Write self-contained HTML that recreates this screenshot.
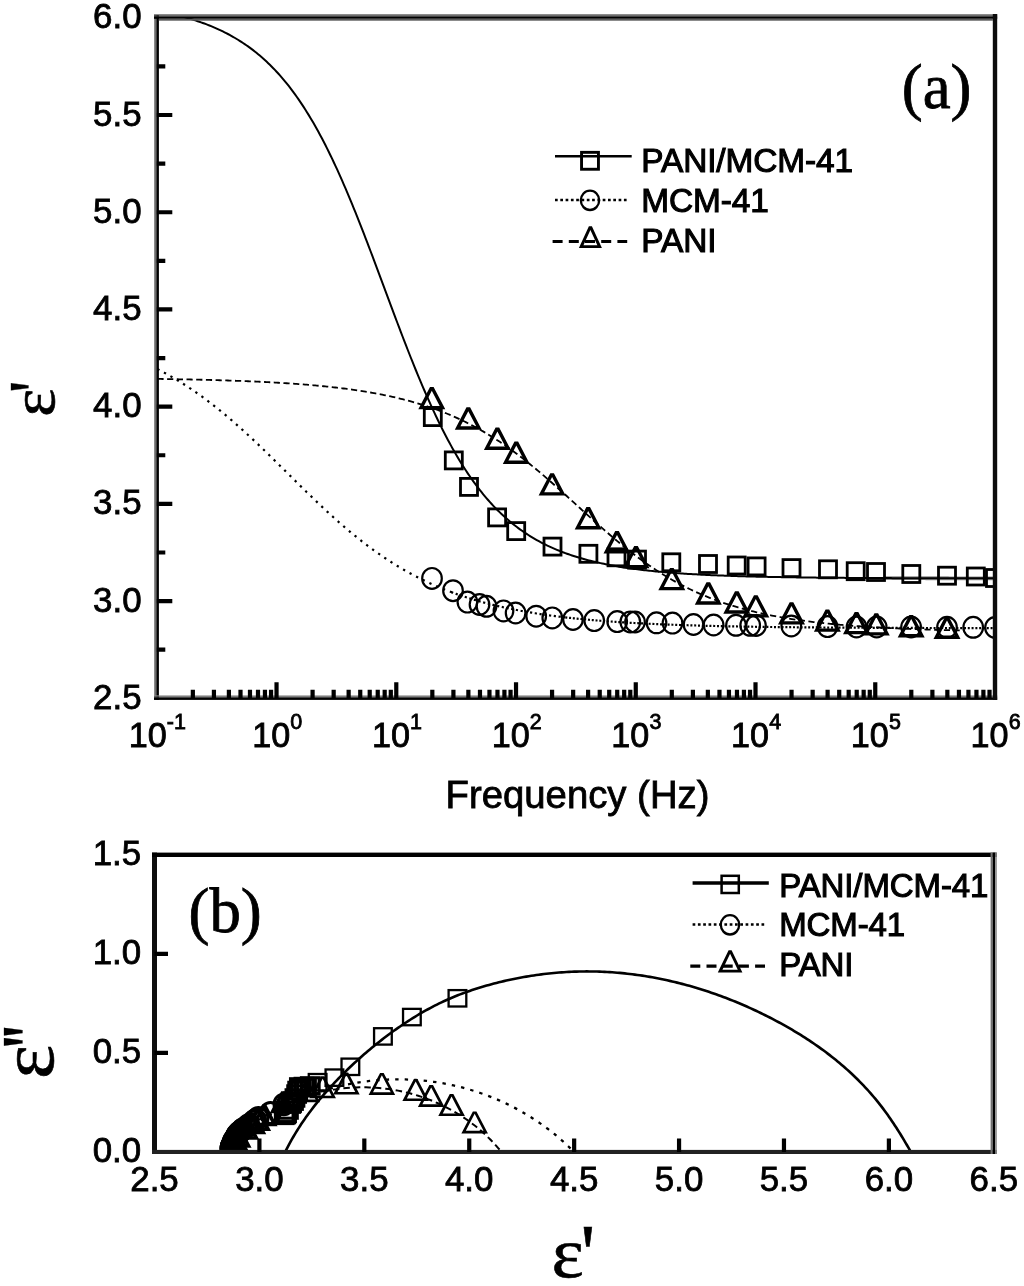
<!DOCTYPE html>
<html lang="en"><head><meta charset="utf-8"><title>Dielectric spectra of PANI/MCM-41, MCM-41 and PANI</title>
<style>
html,body{margin:0;padding:0;background:#fff;}
body{width:1024px;height:1286px;overflow:hidden;}
svg{display:block;filter:blur(0.6px);}
</style></head><body>
<svg width="1024" height="1286" viewBox="0 0 1024 1286">
<rect width="1024" height="1286" fill="#fff"/>
<clipPath id="ca"><rect x="156.8" y="17.8" width="838.2" height="680.5"/></clipPath>
<g clip-path="url(#ca)">
<path d="M884.22 578.09L885.89 578.1L887.57 578.11L889.25 578.11L890.93 578.12L892.61 578.13L894.29 578.13L895.97 578.14L897.64 578.14L899.32 578.15L901 578.16L902.68 578.16L904.36 578.17L906.04 578.17L907.72 578.18L909.39 578.18L911.07 578.19L912.75 578.19L914.43 578.2L916.11 578.2L917.79 578.21L919.46 578.21L921.14 578.22L922.82 578.22L924.5 578.22L926.18 578.23L927.86 578.23L929.54 578.24L931.21 578.24L932.89 578.24L934.57 578.25L936.25 578.25L937.93 578.25L939.61 578.26L941.29 578.26L942.96 578.26L944.64 578.27L946.32 578.27L948 578.27L949.68 578.28L951.36 578.28L953.04 578.28L954.71 578.29L956.39 578.29L958.07 578.29L959.75 578.29L961.43 578.3L963.11 578.3L964.79 578.3L966.46 578.3L968.14 578.31L969.82 578.31L971.5 578.31L973.18 578.31L974.86 578.31L976.54 578.32L978.21 578.32L979.89 578.32L981.57 578.32L983.25 578.32L984.93 578.33L986.61 578.33L988.29 578.33L989.96 578.33L991.64 578.33L993.32 578.33L995 578.34" fill="none" stroke="#000" stroke-width="3.8" stroke-opacity="0.45"/>
<path d="M157.4 11L159.08 11.32L160.76 11.64L162.44 11.97L164.11 12.31L165.79 12.65L167.47 13.01L169.15 13.37L170.83 13.75L172.51 14.13L174.19 14.52L175.86 14.93L177.54 15.34L179.22 15.76L180.9 16.19L182.58 16.64L184.26 17.09L185.94 17.56L187.61 18.04L189.29 18.53L190.97 19.03L192.65 19.55L194.33 20.08L196.01 20.62L197.69 21.18L199.36 21.75L201.04 22.34L202.72 22.94L204.4 23.55L206.08 24.18L207.76 24.83L209.44 25.49L211.11 26.17L212.79 26.87L214.47 27.59L216.15 28.32L217.83 29.07L219.51 29.85L221.19 30.64L222.86 31.45L224.54 32.28L226.22 33.14L227.9 34.01L229.58 34.91L231.26 35.83L232.94 36.78L234.61 37.75L236.29 38.74L237.97 39.76L239.65 40.8L241.33 41.87L243.01 42.97L244.68 44.1L246.36 45.25L248.04 46.44L249.72 47.65L251.4 48.9L253.08 50.17L254.76 51.48L256.43 52.82L258.11 54.19L259.79 55.6L261.47 57.04L263.15 58.52L264.83 60.04L266.51 61.59L268.18 63.18L269.86 64.8L271.54 66.47L273.22 68.18L274.9 69.93L276.58 71.72L278.26 73.55L279.93 75.43L281.61 77.35L283.29 79.32L284.97 81.33L286.65 83.38L288.33 85.49L290.01 87.64L291.68 89.84L293.36 92.09L295.04 94.39L296.72 96.74L298.4 99.14L300.08 101.59L301.76 104.09L303.43 106.65L305.11 109.26L306.79 111.92L308.47 114.63L310.15 117.41L311.83 120.23L313.51 123.11L315.18 126.05L316.86 129.04L318.54 132.08L320.22 135.18L321.9 138.34L323.58 141.55L325.26 144.82L326.93 148.14L328.61 151.52L330.29 154.95L331.97 158.43L333.65 161.97L335.33 165.56L337.01 169.2L338.68 172.9L340.36 176.64L342.04 180.44L343.72 184.28L345.4 188.17L347.08 192.11L348.76 196.09L350.43 200.12L352.11 204.19L353.79 208.3L355.47 212.44L357.15 216.63L358.83 220.85L360.51 225.11L362.18 229.4L363.86 233.72L365.54 238.06L367.22 242.44L368.9 246.84L370.58 251.26L372.26 255.69L373.93 260.15L375.61 264.62L377.29 269.11L378.97 273.6L380.65 278.1L382.33 282.61L384.01 287.12L385.68 291.63L387.36 296.14L389.04 300.65L390.72 305.15L392.4 309.63L394.08 314.11L395.76 318.58L397.43 323.02L399.11 327.45L400.79 331.86L402.47 336.24L404.15 340.6L405.83 344.94L407.51 349.24L409.18 353.51L410.86 357.75L412.54 361.95L414.22 366.12L415.9 370.25L417.58 374.33L419.25 378.38L420.93 382.38L422.61 386.34L424.29 390.25L425.97 394.12L427.65 397.93L429.33 401.7L431 405.42L432.68 409.09L434.36 412.7L436.04 416.26L437.72 419.77L439.4 423.23L441.08 426.63L442.75 429.98L444.43 433.27L446.11 436.5L447.79 439.69L449.47 442.81L451.15 445.88L452.83 448.9L454.5 451.86L456.18 454.77L457.86 457.62L459.54 460.41L461.22 463.15L462.9 465.84L464.58 468.47L466.25 471.05L467.93 473.58L469.61 476.06L471.29 478.48L472.97 480.85L474.65 483.17L476.33 485.45L478 487.67L479.68 489.84L481.36 491.97L483.04 494.05L484.72 496.08L486.4 498.06L488.08 500.01L489.75 501.9L491.43 503.75L493.11 505.56L494.79 507.33L496.47 509.06L498.15 510.74L499.83 512.39L501.5 514L503.18 515.57L504.86 517.1L506.54 518.59L508.22 520.05L509.9 521.48L511.58 522.86L513.25 524.22L514.93 525.54L516.61 526.83L518.29 528.09L519.97 529.32L521.65 530.52L523.33 531.68L525 532.82L526.68 533.93L528.36 535.02L530.04 536.07L531.72 537.11L533.4 538.11L535.08 539.09L536.75 540.05L538.43 540.98L540.11 541.89L541.79 542.77L543.47 543.64L545.15 544.48L546.83 545.3L548.5 546.1L550.18 546.88L551.86 547.64L553.54 548.39L555.22 549.11L556.9 549.82L558.58 550.51L560.25 551.18L561.93 551.83L563.61 552.47L565.29 553.09L566.97 553.7L568.65 554.29L570.33 554.87L572 555.43L573.68 555.98L575.36 556.52L577.04 557.04L578.72 557.55L580.4 558.04L582.07 558.53L583.75 559L585.43 559.46L587.11 559.91L588.79 560.35L590.47 560.78L592.15 561.2L593.82 561.6L595.5 562L597.18 562.39L598.86 562.76L600.54 563.13L602.22 563.49L603.9 563.84L605.57 564.19L607.25 564.52L608.93 564.85L610.61 565.16L612.29 565.47L613.97 565.78L615.65 566.07L617.32 566.36L619 566.64L620.68 566.92L622.36 567.18L624.04 567.45L625.72 567.7L627.4 567.95L629.07 568.19L630.75 568.43L632.43 568.66L634.11 568.89L635.79 569.11L637.47 569.32L639.15 569.53L640.82 569.74L642.5 569.94L644.18 570.14L645.86 570.33L647.54 570.51L649.22 570.69L650.9 570.87L652.57 571.05L654.25 571.22L655.93 571.38L657.61 571.54L659.29 571.7L660.97 571.85L662.65 572.01L664.32 572.15L666 572.3L667.68 572.44L669.36 572.57L671.04 572.71L672.72 572.84L674.4 572.96L676.07 573.09L677.75 573.21L679.43 573.33L681.11 573.44L682.79 573.56L684.47 573.67L686.15 573.78L687.82 573.88L689.5 573.99L691.18 574.09L692.86 574.18L694.54 574.28L696.22 574.37L697.9 574.47L699.57 574.56L701.25 574.64L702.93 574.73L704.61 574.81L706.29 574.89L707.97 574.97L709.65 575.05L711.32 575.13L713 575.2L714.68 575.27L716.36 575.35L718.04 575.42L719.72 575.48L721.4 575.55L723.07 575.61L724.75 575.68L726.43 575.74L728.11 575.8L729.79 575.86L731.47 575.92L733.15 575.97L734.82 576.03L736.5 576.08L738.18 576.13L739.86 576.18L741.54 576.23L743.22 576.28L744.89 576.33L746.57 576.38L748.25 576.42L749.93 576.47L751.61 576.51L753.29 576.56L754.97 576.6L756.64 576.64L758.32 576.68L760 576.72L761.68 576.75L763.36 576.79L765.04 576.83L766.72 576.86L768.39 576.9L770.07 576.93L771.75 576.97L773.43 577L775.11 577.03L776.79 577.06L778.47 577.09L780.14 577.12L781.82 577.15L783.5 577.18L785.18 577.21L786.86 577.23L788.54 577.26L790.22 577.28L791.89 577.31L793.57 577.33L795.25 577.36L796.93 577.38L798.61 577.41L800.29 577.43L801.97 577.45L803.64 577.47L805.32 577.49L807 577.51L808.68 577.53L810.36 577.55L812.04 577.57L813.72 577.59L815.39 577.61L817.07 577.63L818.75 577.64L820.43 577.66L822.11 577.68L823.79 577.69L825.47 577.71L827.14 577.73L828.82 577.74L830.5 577.76L832.18 577.77L833.86 577.79L835.54 577.8L837.22 577.81L838.89 577.83L840.57 577.84L842.25 577.85L843.93 577.86L845.61 577.88L847.29 577.89L848.97 577.9L850.64 577.91L852.32 577.92L854 577.93L855.68 577.94L857.36 577.95L859.04 577.96L860.72 577.97L862.39 577.98L864.07 577.99L865.75 578L867.43 578.01L869.11 578.02L870.79 578.03L872.47 578.04L874.14 578.05L875.82 578.05L877.5 578.06L879.18 578.07L880.86 578.08L882.54 578.08L884.22 578.09L885.89 578.1L887.57 578.11L889.25 578.11L890.93 578.12L892.61 578.13L894.29 578.13L895.97 578.14L897.64 578.14L899.32 578.15L901 578.16L902.68 578.16L904.36 578.17L906.04 578.17L907.72 578.18L909.39 578.18L911.07 578.19L912.75 578.19L914.43 578.2L916.11 578.2L917.79 578.21L919.46 578.21L921.14 578.22L922.82 578.22L924.5 578.22L926.18 578.23L927.86 578.23L929.54 578.24L931.21 578.24L932.89 578.24L934.57 578.25L936.25 578.25L937.93 578.25L939.61 578.26L941.29 578.26L942.96 578.26L944.64 578.27L946.32 578.27L948 578.27L949.68 578.28L951.36 578.28L953.04 578.28L954.71 578.29L956.39 578.29L958.07 578.29L959.75 578.29L961.43 578.3L963.11 578.3L964.79 578.3L966.46 578.3L968.14 578.31L969.82 578.31L971.5 578.31L973.18 578.31L974.86 578.31L976.54 578.32L978.21 578.32L979.89 578.32L981.57 578.32L983.25 578.32L984.93 578.33L986.61 578.33L988.29 578.33L989.96 578.33L991.64 578.33L993.32 578.33L995 578.34" fill="none" stroke="#000" stroke-width="2"/>
<path d="M157.4 369.07L159.08 369.94L160.76 370.82L162.44 371.71L164.11 372.61L165.79 373.53L167.47 374.46L169.15 375.4L170.83 376.36L172.51 377.33L174.19 378.31L175.86 379.31L177.54 380.32L179.22 381.35L180.9 382.39L182.58 383.44L184.26 384.5L185.94 385.58L187.61 386.68L189.29 387.79L190.97 388.91L192.65 390.04L194.33 391.19L196.01 392.36L197.69 393.54L199.36 394.73L201.04 395.93L202.72 397.15L204.4 398.39L206.08 399.63L207.76 400.89L209.44 402.17L211.11 403.46L212.79 404.76L214.47 406.07L216.15 407.4L217.83 408.74L219.51 410.1L221.19 411.47L222.86 412.85L224.54 414.24L226.22 415.64L227.9 417.06L229.58 418.49L231.26 419.93L232.94 421.38L234.61 422.85L236.29 424.32L237.97 425.81L239.65 427.31L241.33 428.82L243.01 430.33L244.68 431.86L246.36 433.4L248.04 434.95L249.72 436.5L251.4 438.07L253.08 439.64L254.76 441.22L256.43 442.81L258.11 444.41L259.79 446.01L261.47 447.62L263.15 449.24L264.83 450.86L266.51 452.49L268.18 454.12L269.86 455.76L271.54 457.4L273.22 459.05L274.9 460.7L276.58 462.35L278.26 464.01L279.93 465.67L281.61 467.33L283.29 468.99L284.97 470.65L286.65 472.32L288.33 473.98L290.01 475.64L291.68 477.31L293.36 478.97L295.04 480.63L296.72 482.29L298.4 483.94L300.08 485.6L301.76 487.25L303.43 488.89L305.11 490.53L306.79 492.17L308.47 493.81L310.15 495.43L311.83 497.06L313.51 498.67L315.18 500.28L316.86 501.89L318.54 503.49L320.22 505.07L321.9 506.66L323.58 508.23L325.26 509.79L326.93 511.35L328.61 512.9L330.29 514.44L331.97 515.96L333.65 517.48L335.33 518.99L337.01 520.49L338.68 521.97L340.36 523.45L342.04 524.92L343.72 526.37L345.4 527.81L347.08 529.24L348.76 530.66L350.43 532.06L352.11 533.46L353.79 534.84L355.47 536.2L357.15 537.56L358.83 538.9L360.51 540.23L362.18 541.54L363.86 542.85L365.54 544.13L367.22 545.41L368.9 546.67L370.58 547.92L372.26 549.15L373.93 550.37L375.61 551.58L377.29 552.77L378.97 553.95L380.65 555.11L382.33 556.26L384.01 557.4L385.68 558.52L387.36 559.63L389.04 560.72L390.72 561.8L392.4 562.87L394.08 563.92L395.76 564.96L397.43 565.99L399.11 567L400.79 567.99L402.47 568.98L404.15 569.95L405.83 570.91L407.51 571.85L409.18 572.78L410.86 573.7L412.54 574.6L414.22 575.49L415.9 576.37L417.58 577.24L419.25 578.09L420.93 578.93L422.61 579.76L424.29 580.58L425.97 581.38L427.65 582.17L429.33 582.95L431 583.72L432.68 584.47L434.36 585.21L436.04 585.95L437.72 586.67L439.4 587.38L441.08 588.07L442.75 588.76L444.43 589.44L446.11 590.1L447.79 590.76L449.47 591.4L451.15 592.04L452.83 592.66" fill="none" stroke="#000" stroke-width="2.2" stroke-dasharray="2.3 5.1"/>
<path d="M451.15 592.04L452.83 592.66L454.5 593.28L456.18 593.88L457.86 594.47L459.54 595.06L461.22 595.63L462.9 596.2L464.58 596.75L466.25 597.3L467.93 597.84L469.61 598.36L471.29 598.88L472.97 599.4L474.65 599.9L476.33 600.39L478 600.88L479.68 601.36L481.36 601.82L483.04 602.29L484.72 602.74L486.4 603.19L488.08 603.62L489.75 604.06L491.43 604.48L493.11 604.9L494.79 605.3L496.47 605.71L498.15 606.1L499.83 606.49L501.5 606.87L503.18 607.25L504.86 607.62L506.54 607.98L508.22 608.33L509.9 608.68L511.58 609.03L513.25 609.37L514.93 609.7L516.61 610.02L518.29 610.34L519.97 610.66L521.65 610.97L523.33 611.27L525 611.57L526.68 611.86L528.36 612.15L530.04 612.44L531.72 612.71L533.4 612.99L535.08 613.26L536.75 613.52L538.43 613.78L540.11 614.04L541.79 614.29L543.47 614.53L545.15 614.77L546.83 615.01L548.5 615.24L550.18 615.47L551.86 615.7L553.54 615.92L555.22 616.14L556.9 616.35L558.58 616.56L560.25 616.76L561.93 616.97L563.61 617.17L565.29 617.36" fill="none" stroke="#000" stroke-width="2.2" stroke-dasharray="2.2 2.6"/>
<path d="M565.29 617.36L566.97 617.55L568.65 617.74L570.33 617.93L572 618.11L573.68 618.29L575.36 618.46L577.04 618.63L578.72 618.8L580.4 618.97L582.07 619.13L583.75 619.29L585.43 619.45L587.11 619.61L588.79 619.76L590.47 619.91L592.15 620.05L593.82 620.2L595.5 620.34L597.18 620.48L598.86 620.62L600.54 620.75L602.22 620.88L603.9 621.01L605.57 621.14L607.25 621.26L608.93 621.39L610.61 621.51L612.29 621.63L613.97 621.74L615.65 621.86L617.32 621.97L619 622.08L620.68 622.19L622.36 622.29L624.04 622.4L625.72 622.5L627.4 622.6L629.07 622.7L630.75 622.8L632.43 622.89L634.11 622.99L635.79 623.08L637.47 623.17L639.15 623.26L640.82 623.35L642.5 623.43L644.18 623.52L645.86 623.6L647.54 623.68L649.22 623.76L650.9 623.84L652.57 623.92L654.25 623.99L655.93 624.07L657.61 624.14L659.29 624.21L660.97 624.28L662.65 624.35L664.32 624.42L666 624.49L667.68 624.55L669.36 624.62L671.04 624.68L672.72 624.74L674.4 624.81L676.07 624.87L677.75 624.92L679.43 624.98L681.11 625.04L682.79 625.1L684.47 625.15L686.15 625.2L687.82 625.26L689.5 625.31L691.18 625.36L692.86 625.41L694.54 625.46L696.22 625.51L697.9 625.56L699.57 625.6L701.25 625.65L702.93 625.7L704.61 625.74L706.29 625.78L707.97 625.83L709.65 625.87L711.32 625.91L713 625.95L714.68 625.99L716.36 626.03L718.04 626.07L719.72 626.11L721.4 626.14L723.07 626.18L724.75 626.22L726.43 626.25L728.11 626.29L729.79 626.32L731.47 626.35L733.15 626.39L734.82 626.42L736.5 626.45L738.18 626.48L739.86 626.51L741.54 626.54L743.22 626.57L744.89 626.6L746.57 626.63L748.25 626.66L749.93 626.68L751.61 626.71L753.29 626.74L754.97 626.76L756.64 626.79L758.32 626.81L760 626.84L761.68 626.86L763.36 626.89L765.04 626.91L766.72 626.93L768.39 626.96L770.07 626.98L771.75 627L773.43 627.02L775.11 627.04L776.79 627.06L778.47 627.08L780.14 627.1L781.82 627.12L783.5 627.14L785.18 627.16L786.86 627.18L788.54 627.2L790.22 627.22L791.89 627.23L793.57 627.25L795.25 627.27L796.93 627.29L798.61 627.3L800.29 627.32L801.97 627.33L803.64 627.35L805.32 627.36L807 627.38L808.68 627.39L810.36 627.41L812.04 627.42L813.72 627.44L815.39 627.45L817.07 627.46L818.75 627.48L820.43 627.49L822.11 627.5L823.79 627.52L825.47 627.53L827.14 627.54L828.82 627.55L830.5 627.56L832.18 627.58L833.86 627.59L835.54 627.6L837.22 627.61L838.89 627.62L840.57 627.63L842.25 627.64L843.93 627.65L845.61 627.66L847.29 627.67L848.97 627.68L850.64 627.69L852.32 627.7L854 627.71L855.68 627.72L857.36 627.73L859.04 627.73L860.72 627.74L862.39 627.75L864.07 627.76L865.75 627.77L867.43 627.78L869.11 627.78L870.79 627.79L872.47 627.8L874.14 627.81L875.82 627.81L877.5 627.82L879.18 627.83L880.86 627.83L882.54 627.84L884.22 627.85L885.89 627.85L887.57 627.86L889.25 627.87L890.93 627.87L892.61 627.88L894.29 627.89L895.97 627.89L897.64 627.9L899.32 627.9L901 627.91L902.68 627.91L904.36 627.92L906.04 627.92L907.72 627.93L909.39 627.93L911.07 627.94L912.75 627.94L914.43 627.95L916.11 627.95L917.79 627.96L919.46 627.96L921.14 627.97L922.82 627.97L924.5 627.98L926.18 627.98L927.86 627.99L929.54 627.99L931.21 627.99L932.89 628L934.57 628L936.25 628.01L937.93 628.01L939.61 628.01L941.29 628.02L942.96 628.02L944.64 628.02L946.32 628.03L948 628.03L949.68 628.03L951.36 628.04L953.04 628.04L954.71 628.04L956.39 628.05L958.07 628.05L959.75 628.05L961.43 628.06L963.11 628.06L964.79 628.06L966.46 628.06L968.14 628.07L969.82 628.07L971.5 628.07L973.18 628.07L974.86 628.08L976.54 628.08L978.21 628.08L979.89 628.08L981.57 628.09L983.25 628.09L984.93 628.09L986.61 628.09L988.29 628.1L989.96 628.1L991.64 628.1L993.32 628.1L995 628.1" fill="none" stroke="#000" stroke-width="2.2" stroke-dasharray="2 1.8"/>
<path d="M157.4 378.92L159.08 378.94L160.76 378.97L162.44 378.99L164.11 379.02L165.79 379.04L167.47 379.07L169.15 379.1L170.83 379.13L172.51 379.16L174.19 379.19L175.86 379.21L177.54 379.25L179.22 379.28L180.9 379.31L182.58 379.34L184.26 379.37L185.94 379.41L187.61 379.44L189.29 379.47L190.97 379.51L192.65 379.55L194.33 379.58L196.01 379.62L197.69 379.66L199.36 379.7L201.04 379.74L202.72 379.78L204.4 379.82L206.08 379.86L207.76 379.9L209.44 379.95L211.11 379.99L212.79 380.04L214.47 380.08L216.15 380.13L217.83 380.18L219.51 380.23L221.19 380.28L222.86 380.33L224.54 380.38L226.22 380.44L227.9 380.49L229.58 380.55L231.26 380.6L232.94 380.66L234.61 380.72L236.29 380.78L237.97 380.84L239.65 380.9L241.33 380.97L243.01 381.03L244.68 381.1L246.36 381.16L248.04 381.23L249.72 381.3L251.4 381.37L253.08 381.45L254.76 381.52L256.43 381.6L258.11 381.67L259.79 381.75L261.47 381.83L263.15 381.91L264.83 382L266.51 382.08L268.18 382.17L269.86 382.26L271.54 382.35L273.22 382.44L274.9 382.53L276.58 382.63L278.26 382.73L279.93 382.83L281.61 382.93L283.29 383.03L284.97 383.14L286.65 383.24L288.33 383.35L290.01 383.47L291.68 383.58L293.36 383.7L295.04 383.82L296.72 383.94L298.4 384.06L300.08 384.19L301.76 384.31L303.43 384.45L305.11 384.58L306.79 384.72L308.47 384.85L310.15 385L311.83 385.14L313.51 385.29L315.18 385.44L316.86 385.59L318.54 385.75L320.22 385.91L321.9 386.07L323.58 386.24L325.26 386.41L326.93 386.58L328.61 386.75L330.29 386.93L331.97 387.12L333.65 387.3L335.33 387.5L337.01 387.69L338.68 387.89L340.36 388.09L342.04 388.3L343.72 388.51L345.4 388.72L347.08 388.94L348.76 389.16L350.43 389.39L352.11 389.62L353.79 389.86L355.47 390.1L357.15 390.35L358.83 390.6L360.51 390.85L362.18 391.12L363.86 391.38L365.54 391.65L367.22 391.93L368.9 392.21L370.58 392.5L372.26 392.79L373.93 393.09L375.61 393.4L377.29 393.71L378.97 394.03L380.65 394.35L382.33 394.68L384.01 395.02L385.68 395.36L387.36 395.71L389.04 396.07L390.72 396.44L392.4 396.81L394.08 397.19L395.76 397.57L397.43 397.96L399.11 398.37L400.79 398.77L402.47 399.19L404.15 399.62L405.83 400.05L407.51 400.49L409.18 400.94L410.86 401.4L412.54 401.87L414.22 402.34L415.9 402.83L417.58 403.32L419.25 403.83L420.93 404.34L422.61 404.86L424.29 405.4L425.97 405.94L427.65 406.49L429.33 407.05L431 407.63L432.68 408.21L434.36 408.81L436.04 409.41L437.72 410.03L439.4 410.66L441.08 411.3L442.75 411.95L444.43 412.61L446.11 413.29L447.79 413.97L449.47 414.67L451.15 415.38L452.83 416.11L454.5 416.84L456.18 417.59L457.86 418.35L459.54 419.12L461.22 419.91L462.9 420.71L464.58 421.53L466.25 422.35L467.93 423.19L469.61 424.05L471.29 424.92L472.97 425.8L474.65 426.69L476.33 427.6L478 428.53L479.68 429.47L481.36 430.42L483.04 431.39L484.72 432.37L486.4 433.36L488.08 434.37L489.75 435.4L491.43 436.44L493.11 437.49L494.79 438.56L496.47 439.64L498.15 440.74L499.83 441.85L501.5 442.97L503.18 444.11L504.86 445.27L506.54 446.44L508.22 447.62L509.9 448.81L511.58 450.03L513.25 451.25L514.93 452.49L516.61 453.74L518.29 455L519.97 456.28L521.65 457.57L523.33 458.88L525 460.19L526.68 461.52L528.36 462.86L530.04 464.21L531.72 465.58L533.4 466.95L535.08 468.34L536.75 469.74L538.43 471.14L540.11 472.56L541.79 473.99L543.47 475.43L545.15 476.87L546.83 478.32L548.5 479.79L550.18 481.26L551.86 482.73L553.54 484.22L555.22 485.71L556.9 487.21L558.58 488.71L560.25 490.22L561.93 491.73L563.61 493.24L565.29 494.77L566.97 496.29L568.65 497.82L570.33 499.34L572 500.88L573.68 502.41L575.36 503.94L577.04 505.47L578.72 507.01L580.4 508.54L582.07 510.07L583.75 511.6L585.43 513.13L587.11 514.65L588.79 516.17L590.47 517.69L592.15 519.21L593.82 520.72L595.5 522.22L597.18 523.72L598.86 525.21L600.54 526.7L602.22 528.18L603.9 529.65L605.57 531.12L607.25 532.57L608.93 534.02L610.61 535.46L612.29 536.89L613.97 538.31L615.65 539.72L617.32 541.13L619 542.52L620.68 543.89L622.36 545.26L624.04 546.62L625.72 547.96L627.4 549.3L629.07 550.62L630.75 551.93L632.43 553.22L634.11 554.51L635.79 555.78L637.47 557.03L639.15 558.27L640.82 559.5L642.5 560.72L644.18 561.92L645.86 563.11L647.54 564.28L649.22 565.44L650.9 566.59L652.57 567.72L654.25 568.84L655.93 569.94L657.61 571.03L659.29 572.1L660.97 573.16L662.65 574.2L664.32 575.23L666 576.25L667.68 577.25L669.36 578.23L671.04 579.21L672.72 580.16L674.4 581.11L676.07 582.04L677.75 582.95L679.43 583.85L681.11 584.74L682.79 585.61L684.47 586.47L686.15 587.32L687.82 588.15L689.5 588.97L691.18 589.77L692.86 590.57L694.54 591.35L696.22 592.11L697.9 592.86L699.57 593.61L701.25 594.33L702.93 595.05L704.61 595.75L706.29 596.44L707.97 597.12L709.65 597.79L711.32 598.44L713 599.09L714.68 599.72L716.36 600.34L718.04 600.95L719.72 601.55L721.4 602.14L723.07 602.72L724.75 603.28L726.43 603.84L728.11 604.39L729.79 604.92L731.47 605.45L733.15 605.97L734.82 606.47L736.5 606.97L738.18 607.46L739.86 607.94L741.54 608.41L743.22 608.87L744.89 609.33L746.57 609.77L748.25 610.21L749.93 610.63L751.61 611.05L753.29 611.47L754.97 611.87L756.64 612.27L758.32 612.65L760 613.04L761.68 613.41L763.36 613.78L765.04 614.14L766.72 614.49L768.39 614.83L770.07 615.17L771.75 615.51L773.43 615.83L775.11 616.15L776.79 616.47L778.47 616.77L780.14 617.08L781.82 617.37L783.5 617.66L785.18 617.95L786.86 618.23L788.54 618.5L790.22 618.77L791.89 619.03L793.57 619.29L795.25 619.54L796.93 619.79L798.61 620.03L800.29 620.27L801.97 620.51L803.64 620.73L805.32 620.96L807 621.18L808.68 621.4L810.36 621.61L812.04 621.82L813.72 622.02L815.39 622.22L817.07 622.41L818.75 622.61L820.43 622.8L822.11 622.98L823.79 623.16L825.47 623.34L827.14 623.51L828.82 623.68L830.5 623.85L832.18 624.01L833.86 624.17L835.54 624.33L837.22 624.49L838.89 624.64L840.57 624.79L842.25 624.93L843.93 625.08L845.61 625.22L847.29 625.35L848.97 625.49L850.64 625.62L852.32 625.75L854 625.88L855.68 626L857.36 626.12L859.04 626.24L860.72 626.36L862.39 626.47L864.07 626.59L865.75 626.7L867.43 626.81L869.11 626.91L870.79 627.02L872.47 627.12L874.14 627.22L875.82 627.32L877.5 627.41L879.18 627.51L880.86 627.6L882.54 627.69L884.22 627.78L885.89 627.87L887.57 627.95L889.25 628.04L890.93 628.12L892.61 628.2L894.29 628.28L895.97 628.36L897.64 628.43L899.32 628.51L901 628.58L902.68 628.65L904.36 628.72L906.04 628.79L907.72 628.86L909.39 628.93L911.07 628.99L912.75 629.06L914.43 629.12L916.11 629.18L917.79 629.24L919.46 629.3L921.14 629.36L922.82 629.41L924.5 629.47L926.18 629.53L927.86 629.58L929.54 629.63L931.21 629.68L932.89 629.73L934.57 629.78L936.25 629.83L937.93 629.88L939.61 629.93L941.29 629.97L942.96 630.02L944.64 630.06L946.32 630.1L948 630.15L949.68 630.19L951.36 630.23L953.04 630.27L954.71 630.31L956.39 630.35L958.07 630.38L959.75 630.42L961.43 630.46" fill="none" stroke="#000" stroke-width="1.8" stroke-dasharray="6.2 3.5"/>
<rect x="424.3" y="408.6" width="17" height="17" fill="none" stroke="#000" stroke-width="2.8"/>
<rect x="445.3" y="451.9" width="17" height="17" fill="none" stroke="#000" stroke-width="2.8"/>
<rect x="460.5" y="478.4" width="17" height="17" fill="none" stroke="#000" stroke-width="2.8"/>
<rect x="488.6" y="508.9" width="17" height="17" fill="none" stroke="#000" stroke-width="2.8"/>
<rect x="507.7" y="522.6" width="17" height="17" fill="none" stroke="#000" stroke-width="2.8"/>
<rect x="544" y="538.1" width="17" height="17" fill="none" stroke="#000" stroke-width="2.8"/>
<rect x="579.9" y="545.3" width="17" height="17" fill="none" stroke="#000" stroke-width="2.8"/>
<rect x="608" y="548.8" width="17" height="17" fill="none" stroke="#000" stroke-width="2.8"/>
<rect x="628.5" y="551.1" width="17" height="17" fill="none" stroke="#000" stroke-width="2.8"/>
<rect x="662.8" y="553.8" width="17" height="17" fill="none" stroke="#000" stroke-width="2.8"/>
<rect x="699.5" y="555.5" width="17" height="17" fill="none" stroke="#000" stroke-width="2.8"/>
<rect x="728.2" y="557" width="17" height="17" fill="none" stroke="#000" stroke-width="2.8"/>
<rect x="748.1" y="557.9" width="17" height="17" fill="none" stroke="#000" stroke-width="2.8"/>
<rect x="783" y="559.6" width="17" height="17" fill="none" stroke="#000" stroke-width="2.8"/>
<rect x="819.5" y="560.8" width="17" height="17" fill="none" stroke="#000" stroke-width="2.8"/>
<rect x="847.2" y="562.7" width="17" height="17" fill="none" stroke="#000" stroke-width="2.8"/>
<rect x="867.5" y="563.5" width="17" height="17" fill="none" stroke="#000" stroke-width="2.8"/>
<rect x="902.8" y="565.5" width="17" height="17" fill="none" stroke="#000" stroke-width="2.8"/>
<rect x="938.5" y="567.2" width="17" height="17" fill="none" stroke="#000" stroke-width="2.8"/>
<rect x="967.3" y="568" width="17" height="17" fill="none" stroke="#000" stroke-width="2.8"/>
<rect x="986.5" y="569.5" width="17" height="17" fill="none" stroke="#000" stroke-width="2.8"/>
<ellipse cx="432" cy="578.4" rx="9.8" ry="10.4" fill="none" stroke="#000" stroke-width="2.2"/>
<ellipse cx="453" cy="590.7" rx="9.8" ry="10.4" fill="none" stroke="#000" stroke-width="2.2"/>
<ellipse cx="467.4" cy="602.1" rx="9.8" ry="10.4" fill="none" stroke="#000" stroke-width="2.2"/>
<ellipse cx="479.5" cy="604.5" rx="9.8" ry="10.4" fill="none" stroke="#000" stroke-width="2.2"/>
<ellipse cx="486.5" cy="606.3" rx="9.8" ry="10.4" fill="none" stroke="#000" stroke-width="2.2"/>
<ellipse cx="503.5" cy="610.9" rx="9.8" ry="10.4" fill="none" stroke="#000" stroke-width="2.2"/>
<ellipse cx="515.6" cy="613" rx="9.8" ry="10.4" fill="none" stroke="#000" stroke-width="2.2"/>
<ellipse cx="536.2" cy="616.2" rx="9.8" ry="10.4" fill="none" stroke="#000" stroke-width="2.2"/>
<ellipse cx="552.3" cy="617.9" rx="9.8" ry="10.4" fill="none" stroke="#000" stroke-width="2.2"/>
<ellipse cx="573" cy="619.5" rx="9.8" ry="10.4" fill="none" stroke="#000" stroke-width="2.2"/>
<ellipse cx="594.2" cy="620.6" rx="9.8" ry="10.4" fill="none" stroke="#000" stroke-width="2.2"/>
<ellipse cx="617.2" cy="621.6" rx="9.8" ry="10.4" fill="none" stroke="#000" stroke-width="2.2"/>
<ellipse cx="630.3" cy="621.9" rx="9.8" ry="10.4" fill="none" stroke="#000" stroke-width="2.2"/>
<ellipse cx="635" cy="622" rx="9.8" ry="10.4" fill="none" stroke="#000" stroke-width="2.2"/>
<ellipse cx="656.5" cy="622.8" rx="9.8" ry="10.4" fill="none" stroke="#000" stroke-width="2.2"/>
<ellipse cx="672.5" cy="623.1" rx="9.8" ry="10.4" fill="none" stroke="#000" stroke-width="2.2"/>
<ellipse cx="693.5" cy="624.5" rx="9.8" ry="10.4" fill="none" stroke="#000" stroke-width="2.2"/>
<ellipse cx="713.6" cy="625" rx="9.8" ry="10.4" fill="none" stroke="#000" stroke-width="2.2"/>
<ellipse cx="736" cy="625.3" rx="9.8" ry="10.4" fill="none" stroke="#000" stroke-width="2.2"/>
<ellipse cx="750.2" cy="625.3" rx="9.8" ry="10.4" fill="none" stroke="#000" stroke-width="2.2"/>
<ellipse cx="756" cy="625.5" rx="9.8" ry="10.4" fill="none" stroke="#000" stroke-width="2.2"/>
<ellipse cx="791.3" cy="626" rx="9.8" ry="10.4" fill="none" stroke="#000" stroke-width="2.2"/>
<ellipse cx="827.5" cy="626.6" rx="9.8" ry="10.4" fill="none" stroke="#000" stroke-width="2.2"/>
<ellipse cx="856.5" cy="627" rx="9.8" ry="10.4" fill="none" stroke="#000" stroke-width="2.2"/>
<ellipse cx="876.7" cy="627" rx="9.8" ry="10.4" fill="none" stroke="#000" stroke-width="2.2"/>
<ellipse cx="911.1" cy="627" rx="9.8" ry="10.4" fill="none" stroke="#000" stroke-width="2.2"/>
<ellipse cx="947" cy="627.3" rx="9.8" ry="10.4" fill="none" stroke="#000" stroke-width="2.2"/>
<ellipse cx="973.2" cy="627.3" rx="9.8" ry="10.4" fill="none" stroke="#000" stroke-width="2.2"/>
<ellipse cx="995" cy="627.5" rx="9.8" ry="10.4" fill="none" stroke="#000" stroke-width="2.2"/>
<path d="M418.3 409.3L445.3 409.3L433.6 386.9L430 386.9ZM423.91 405.9L439.69 405.9L431.8 390.8Z" fill="#000" fill-rule="evenodd"/>
<path d="M454.8 429.7L481.8 429.7L470.1 407.3L466.5 407.3ZM460.41 426.3L476.19 426.3L468.3 411.2Z" fill="#000" fill-rule="evenodd"/>
<path d="M483.9 449.95L510.9 449.95L499.2 427.55L495.6 427.55ZM489.51 446.55L505.29 446.55L497.4 431.45Z" fill="#000" fill-rule="evenodd"/>
<path d="M502.8 463.95L529.8 463.95L518.1 441.55L514.5 441.55ZM508.41 460.55L524.19 460.55L516.3 445.45Z" fill="#000" fill-rule="evenodd"/>
<path d="M538.6 495.6L565.6 495.6L553.9 473.2L550.3 473.2ZM544.21 492.2L559.99 492.2L552.1 477.1Z" fill="#000" fill-rule="evenodd"/>
<path d="M574.7 529.4L601.7 529.4L590 507L586.4 507ZM580.31 526L596.09 526L588.2 510.9Z" fill="#000" fill-rule="evenodd"/>
<path d="M603.5 553.45L630.5 553.45L618.8 531.05L615.2 531.05ZM609.11 550.05L624.89 550.05L617 534.95Z" fill="#000" fill-rule="evenodd"/>
<path d="M622.5 568.3L649.5 568.3L637.8 545.9L634.2 545.9ZM628.11 564.9L643.89 564.9L636 549.8Z" fill="#000" fill-rule="evenodd"/>
<path d="M658.3 590.35L685.3 590.35L673.6 567.95L670 567.95ZM663.91 586.95L679.69 586.95L671.8 571.85Z" fill="#000" fill-rule="evenodd"/>
<path d="M694.8 604.65L721.8 604.65L710.1 582.25L706.5 582.25ZM700.41 601.25L716.19 601.25L708.3 586.15Z" fill="#000" fill-rule="evenodd"/>
<path d="M723.3 613.65L750.3 613.65L738.6 591.25L735 591.25ZM728.91 610.25L744.69 610.25L736.8 595.15Z" fill="#000" fill-rule="evenodd"/>
<path d="M742.3 617.55L769.3 617.55L757.6 595.15L754 595.15ZM747.91 614.15L763.69 614.15L755.8 599.05Z" fill="#000" fill-rule="evenodd"/>
<path d="M778 624.55L805 624.55L793.3 602.15L789.7 602.15ZM783.61 621.15L799.39 621.15L791.5 606.05Z" fill="#000" fill-rule="evenodd"/>
<path d="M813.9 631.85L840.9 631.85L829.2 609.45L825.6 609.45ZM819.51 628.45L835.29 628.45L827.4 613.35Z" fill="#000" fill-rule="evenodd"/>
<path d="M843 634.3L870 634.3L858.3 611.9L854.7 611.9ZM848.61 630.9L864.39 630.9L856.5 615.8Z" fill="#000" fill-rule="evenodd"/>
<path d="M862.8 635.6L889.8 635.6L878.1 613.2L874.5 613.2ZM868.41 632.2L884.19 632.2L876.3 617.1Z" fill="#000" fill-rule="evenodd"/>
<path d="M897.7 637.45L924.7 637.45L913 615.05L909.4 615.05ZM903.31 634.05L919.09 634.05L911.2 618.95Z" fill="#000" fill-rule="evenodd"/>
<path d="M933.5 638.9L960.5 638.9L948.8 616.5L945.2 616.5ZM939.11 635.5L954.89 635.5L947 620.4Z" fill="#000" fill-rule="evenodd"/>
</g>
<rect x="154" y="14" width="1.4" height="685.9" fill="#8c8c8c"/>
<rect x="155.4" y="14" width="1.4" height="685.9" fill="#2c2c2c"/>
<rect x="156.8" y="14" width="2.1" height="685.9" fill="#000"/>
<rect x="154" y="695.4" width="843.2" height="1.2" fill="#8c8c8c"/>
<rect x="154" y="696.6" width="843.2" height="1.2" fill="#2c2c2c"/>
<rect x="154" y="697.8" width="843.2" height="2.1" fill="#000"/>
<rect x="154" y="14" width="843.2" height="1.4" fill="#8c8c8c"/>
<rect x="154" y="15.4" width="843.2" height="1.4" fill="#2c2c2c"/>
<rect x="154" y="16.8" width="843.2" height="2" fill="#000"/>
<rect x="158.9" y="18.8" width="833.9" height="1.9" fill="#5c5c5c"/>
<rect x="992.8" y="14" width="4.4" height="685.9" fill="#0c0c0c"/>
<path d="M156.8 649.69h8.5M156.8 601.09h15.5M156.8 552.48h8.5M156.8 503.87h15.5M156.8 455.26h8.5M156.8 406.66h15.5M156.8 358.05h8.5M156.8 309.44h15.5M156.8 260.84h8.5M156.8 212.23h15.5M156.8 163.62h8.5M156.8 115.01h15.5M156.8 66.41h8.5M192.85 698.3v-8.5M213.93 698.3v-8.5M228.89 698.3v-8.5M240.5 698.3v-8.5M249.98 698.3v-8.5M257.99 698.3v-8.5M264.94 698.3v-8.5M271.06 698.3v-8.5M276.54 698.3v-16M312.59 698.3v-8.5M333.67 698.3v-8.5M348.64 698.3v-8.5M360.24 698.3v-8.5M369.72 698.3v-8.5M377.74 698.3v-8.5M384.68 698.3v-8.5M390.81 698.3v-8.5M396.29 698.3v-16M432.33 698.3v-8.5M453.42 698.3v-8.5M468.38 698.3v-8.5M479.98 698.3v-8.5M489.46 698.3v-8.5M497.48 698.3v-8.5M504.42 698.3v-8.5M510.55 698.3v-8.5M516.03 698.3v-16M552.07 698.3v-8.5M573.16 698.3v-8.5M588.12 698.3v-8.5M599.73 698.3v-8.5M609.21 698.3v-8.5M617.22 698.3v-8.5M624.17 698.3v-8.5M630.29 698.3v-8.5M635.77 698.3v-16M671.82 698.3v-8.5M692.9 698.3v-8.5M707.86 698.3v-8.5M719.47 698.3v-8.5M728.95 698.3v-8.5M736.97 698.3v-8.5M743.91 698.3v-8.5M750.04 698.3v-8.5M755.51 698.3v-16M791.56 698.3v-8.5M812.65 698.3v-8.5M827.61 698.3v-8.5M839.21 698.3v-8.5M848.69 698.3v-8.5M856.71 698.3v-8.5M863.65 698.3v-8.5M869.78 698.3v-8.5M875.26 698.3v-16M911.3 698.3v-8.5M932.39 698.3v-8.5M947.35 698.3v-8.5M958.95 698.3v-8.5M968.44 698.3v-8.5M976.45 698.3v-8.5M983.4 698.3v-8.5M989.52 698.3v-8.5" stroke="#000" stroke-width="4.2" fill="none"/>
<text x="141.6" y="708.9" font-family='"Liberation Sans", Arial, Helvetica, sans-serif' font-size="34.9" font-weight="normal" text-anchor="end" fill="#000" stroke="#000" stroke-width="0.8">2.5</text>
<text x="141.6" y="611.69" font-family='"Liberation Sans", Arial, Helvetica, sans-serif' font-size="34.9" font-weight="normal" text-anchor="end" fill="#000" stroke="#000" stroke-width="0.8">3.0</text>
<text x="141.6" y="514.47" font-family='"Liberation Sans", Arial, Helvetica, sans-serif' font-size="34.9" font-weight="normal" text-anchor="end" fill="#000" stroke="#000" stroke-width="0.8">3.5</text>
<text x="141.6" y="417.26" font-family='"Liberation Sans", Arial, Helvetica, sans-serif' font-size="34.9" font-weight="normal" text-anchor="end" fill="#000" stroke="#000" stroke-width="0.8">4.0</text>
<text x="141.6" y="320.04" font-family='"Liberation Sans", Arial, Helvetica, sans-serif' font-size="34.9" font-weight="normal" text-anchor="end" fill="#000" stroke="#000" stroke-width="0.8">4.5</text>
<text x="141.6" y="222.83" font-family='"Liberation Sans", Arial, Helvetica, sans-serif' font-size="34.9" font-weight="normal" text-anchor="end" fill="#000" stroke="#000" stroke-width="0.8">5.0</text>
<text x="141.6" y="125.61" font-family='"Liberation Sans", Arial, Helvetica, sans-serif' font-size="34.9" font-weight="normal" text-anchor="end" fill="#000" stroke="#000" stroke-width="0.8">5.5</text>
<text x="141.6" y="28.4" font-family='"Liberation Sans", Arial, Helvetica, sans-serif' font-size="34.9" font-weight="normal" text-anchor="end" fill="#000" stroke="#000" stroke-width="0.8">6.0</text>
<text x="157.4" y="746.9" font-family='"Liberation Sans", Arial, Helvetica, sans-serif' font-size="34.2" text-anchor="middle" fill="#000" stroke="#000" stroke-width="0.8">10<tspan dy="-18" font-size="21.5">-1</tspan></text>
<text x="277.14" y="746.9" font-family='"Liberation Sans", Arial, Helvetica, sans-serif' font-size="34.2" text-anchor="middle" fill="#000" stroke="#000" stroke-width="0.8">10<tspan dy="-18" font-size="21.5">0</tspan></text>
<text x="396.89" y="746.9" font-family='"Liberation Sans", Arial, Helvetica, sans-serif' font-size="34.2" text-anchor="middle" fill="#000" stroke="#000" stroke-width="0.8">10<tspan dy="-18" font-size="21.5">1</tspan></text>
<text x="516.63" y="746.9" font-family='"Liberation Sans", Arial, Helvetica, sans-serif' font-size="34.2" text-anchor="middle" fill="#000" stroke="#000" stroke-width="0.8">10<tspan dy="-18" font-size="21.5">2</tspan></text>
<text x="636.37" y="746.9" font-family='"Liberation Sans", Arial, Helvetica, sans-serif' font-size="34.2" text-anchor="middle" fill="#000" stroke="#000" stroke-width="0.8">10<tspan dy="-18" font-size="21.5">3</tspan></text>
<text x="756.11" y="746.9" font-family='"Liberation Sans", Arial, Helvetica, sans-serif' font-size="34.2" text-anchor="middle" fill="#000" stroke="#000" stroke-width="0.8">10<tspan dy="-18" font-size="21.5">4</tspan></text>
<text x="875.86" y="746.9" font-family='"Liberation Sans", Arial, Helvetica, sans-serif' font-size="34.2" text-anchor="middle" fill="#000" stroke="#000" stroke-width="0.8">10<tspan dy="-18" font-size="21.5">5</tspan></text>
<text x="995.6" y="746.9" font-family='"Liberation Sans", Arial, Helvetica, sans-serif' font-size="34.2" text-anchor="middle" fill="#000" stroke="#000" stroke-width="0.8">10<tspan dy="-18" font-size="21.5">6</tspan></text>
<text x="577.5" y="808" font-family='"Liberation Sans", Arial, Helvetica, sans-serif' font-size="38.3" font-weight="normal" text-anchor="middle" fill="#000" stroke="#000" stroke-width="0.8">Frequency (Hz)</text>
<text x="936.6" y="107.6" font-family='"Liberation Serif", "DejaVu Serif", "Times New Roman", serif' font-size="62.8" font-weight="normal" text-anchor="middle" fill="#000" stroke="#000" stroke-width="0.8">(a)</text>
<text transform="translate(53.6,416.8) rotate(-90) scale(1.07,1)" font-family='"Liberation Serif", "DejaVu Serif", "Times New Roman", serif' font-size="62.3" fill="#000" stroke="#000" stroke-width="0.6">ε</text>
<text transform="translate(59.9,393.5) rotate(-90)" font-family='"Liberation Serif", "DejaVu Serif", "Times New Roman", serif' font-size="75" fill="#000" stroke="#000" stroke-width="0.3">'</text>
<path d="M555 156.3L631.7 156.3" fill="none" stroke="#000" stroke-width="2.4"/>
<rect x="581.55" y="152.35" width="16.9" height="16.9" fill="none" stroke="#000" stroke-width="2.9"/>
<text x="641.3" y="172.4" font-family='"Liberation Sans", Arial, Helvetica, sans-serif' font-size="33.4" font-weight="normal" text-anchor="start" fill="#000" stroke="#000" stroke-width="1.1" letter-spacing="-0.1">PANI/MCM-41</text>
<path d="M555 200L627.5 200" fill="none" stroke="#000" stroke-width="2.7" stroke-dasharray="2.7 2.6"/>
<ellipse cx="590" cy="200.3" rx="9.2" ry="9.7" fill="none" stroke="#000" stroke-width="2.3"/>
<text x="641.3" y="212.3" font-family='"Liberation Sans", Arial, Helvetica, sans-serif' font-size="33.4" font-weight="normal" text-anchor="start" fill="#000" stroke="#000" stroke-width="1.1" letter-spacing="-0.1">MCM-41</text>
<path d="M552.6 241.6L627.2 241.6" fill="none" stroke="#000" stroke-width="3" stroke-dasharray="10 6.2"/>
<path d="M578.9 248.05L601.9 248.05L591.9 226.35L588.9 226.35ZM583.43 245.15L597.37 245.15L590.4 230.02Z" fill="#000" fill-rule="evenodd"/>
<text x="641.3" y="252.2" font-family='"Liberation Sans", Arial, Helvetica, sans-serif' font-size="33.4" font-weight="normal" text-anchor="start" fill="#000" stroke="#000" stroke-width="1.1" letter-spacing="-0.1">PANI</text>
<clipPath id="cb"><rect x="154.5" y="854.7" width="839.3" height="297.25"/></clipPath>
<g clip-path="url(#cb)">
<path d="M284.99 1152.41L286.11 1150.12L287.26 1147.86L288.44 1145.6L289.63 1143.36L290.85 1141.14L292.1 1138.92L293.36 1136.73L294.65 1134.54L295.97 1132.38L297.3 1130.22L298.65 1128.08L300.03 1125.95L301.42 1123.84L302.84 1121.74L304.27 1119.65L305.73 1117.58L307.2 1115.52L308.69 1113.47L310.2 1111.44L311.73 1109.42L313.28 1107.41L314.84 1105.42L316.42 1103.43L318.02 1101.46L319.63 1099.51L321.26 1097.56L322.9 1095.63L324.56 1093.71L326.23 1091.8L327.91 1089.9L329.61 1088.02L331.33 1086.14L333.05 1084.28L334.79 1082.43L336.54 1080.59L338.31 1078.76L340.08 1076.95L341.87 1075.14L343.66 1073.35L345.47 1071.56L347.29 1069.79L349.12 1068.03L350.95 1066.28L352.8 1064.54L354.66 1062.81L356.53 1061.1L358.4 1059.39L360.29 1057.7L362.19 1056.02L364.1 1054.35L366.01 1052.69L367.94 1051.04L369.88 1049.41L371.82 1047.79L373.78 1046.18L375.74 1044.59L377.72 1043L379.7 1041.43L381.7 1039.88L383.7 1038.33L385.72 1036.8L387.74 1035.28L389.77 1033.78L391.81 1032.28L393.86 1030.81L395.92 1029.34L397.99 1027.89L400.07 1026.45L402.16 1025.03L404.26 1023.63L406.37 1022.23L408.49 1020.86L410.61 1019.5L412.75 1018.15L414.9 1016.82L417.05 1015.51L419.22 1014.22L421.4 1012.95L423.59 1011.69L425.79 1010.45L428 1009.24L430.22 1008.04L432.45 1006.86L434.69 1005.7L436.95 1004.57L439.21 1003.45L441.49 1002.36L443.78 1001.29L446.08 1000.24L448.39 999.21L450.71 998.2L453.04 997.22L455.39 996.26L457.74 995.31L460.1 994.39L462.47 993.49L464.85 992.61L467.24 991.75L469.63 990.91L472.04 990.09L474.45 989.29L476.87 988.51L479.29 987.75L481.73 987.01L484.17 986.28L486.61 985.58L489.06 984.89L491.52 984.22L493.98 983.57L496.44 982.93L498.91 982.31L501.39 981.71L503.86 981.13L506.34 980.56L508.83 980.01L511.32 979.48L513.81 978.96L516.3 978.46L518.79 977.98L521.29 977.51L523.79 977.06L526.3 976.63L528.8 976.21L531.31 975.81L533.82 975.43L536.33 975.06L538.85 974.71L541.36 974.38L543.88 974.07L546.4 973.77L548.92 973.49L551.44 973.23L553.97 972.99L556.49 972.76L559.02 972.55L561.55 972.36L564.07 972.18L566.6 972.03L569.13 971.89L571.66 971.77L574.19 971.67L576.72 971.58L579.25 971.51L581.78 971.47L584.31 971.43L586.84 971.42L589.37 971.43L591.9 971.45L594.43 971.49L596.96 971.55L599.49 971.63L602.02 971.73L604.55 971.84L607.07 971.97L609.6 972.12L612.13 972.29L614.65 972.48L617.17 972.68L619.69 972.9L622.21 973.14L624.73 973.4L627.25 973.67L629.76 973.96L632.27 974.27L634.79 974.59L637.3 974.93L639.8 975.29L642.31 975.66L644.81 976.05L647.31 976.46L649.81 976.89L652.31 977.33L654.8 977.79L657.29 978.26L659.78 978.75L662.27 979.26L664.75 979.78L667.23 980.32L669.7 980.87L672.18 981.44L674.65 982.03L677.11 982.63L679.58 983.25L682.04 983.88L684.49 984.53L686.94 985.19L689.39 985.87L691.84 986.57L694.28 987.28L696.71 988L699.15 988.74L701.58 989.5L704 990.27L706.42 991.05L708.83 991.85L711.24 992.66L713.65 993.49L716.05 994.33L718.45 995.19L720.84 996.06L723.22 996.95L725.6 997.84L727.98 998.76L730.35 999.69L732.72 1000.63L735.07 1001.58L737.43 1002.55L739.78 1003.53L742.12 1004.53L744.46 1005.54L746.79 1006.56L749.11 1007.6L751.43 1008.65L753.74 1009.71L756.05 1010.78L758.35 1011.87L760.64 1012.98L762.93 1014.09L765.21 1015.22L767.48 1016.36L769.75 1017.51L772.01 1018.67L774.26 1019.85L776.5 1021.04L778.74 1022.24L780.97 1023.46L783.19 1024.69L785.41 1025.93L787.61 1027.18L789.81 1028.45L792 1029.73L794.18 1031.02L796.35 1032.33L798.52 1033.65L800.67 1034.98L802.82 1036.33L804.95 1037.69L807.07 1039.06L809.19 1040.45L811.29 1041.86L813.38 1043.27L815.47 1044.7L817.54 1046.15L819.6 1047.61L821.65 1049.08L823.68 1050.57L825.71 1052.08L827.72 1053.6L829.72 1055.13L831.71 1056.68L833.69 1058.25L835.65 1059.83L837.6 1061.42L839.54 1063.03L841.46 1064.66L843.37 1066.3L845.27 1067.96L847.15 1069.63L849.02 1071.32L850.88 1073.03L852.72 1074.75L854.54 1076.49L856.35 1078.24L858.14 1080.02L859.92 1081.8L861.69 1083.61L863.43 1085.43L865.16 1087.27L866.88 1089.13L868.58 1091L870.26 1092.89L871.93 1094.8L873.57 1096.72L875.2 1098.67L876.82 1100.63L878.41 1102.61L879.99 1104.6L881.55 1106.62L883.09 1108.65L884.62 1110.7L886.13 1112.76L887.62 1114.84L889.09 1116.93L890.55 1119.04L891.99 1121.16L893.42 1123.28L894.83 1125.42L896.23 1127.57L897.61 1129.73L898.97 1131.89L900.33 1134.06L901.67 1136.24L902.99 1138.42L904.3 1140.61L905.6 1142.8L906.89 1144.99L908.16 1147.19L909.43 1149.38L910.68 1151.58" fill="none" stroke="#000" stroke-width="2.6"/>
<path d="M224.17 1150.5L224.17 1150.5L224.17 1150.5L224.17 1150.5L224.17 1150.5L224.17 1150.5L224.17 1150.5L224.17 1150.5L224.17 1150.5L224.17 1150.5L224.17 1150.5L224.17 1150.5L224.17 1150.5L224.17 1150.5L224.17 1150.5L224.17 1150.5L224.17 1150.5L224.17 1150.5L224.17 1150.5L224.17 1150.5L224.17 1150.5L224.17 1150.5L224.17 1150.5L224.17 1150.5L224.17 1150.5L224.17 1150.5L224.17 1150.5L224.17 1150.5L224.17 1150.5L224.17 1150.5L224.17 1150.5L224.17 1150.5L224.17 1150.5L224.17 1150.5L224.17 1150.5L224.17 1150.5L224.17 1150.5L224.17 1150.5L224.17 1150.5L224.17 1150.5L224.17 1150.5L224.17 1150.5L224.17 1150.5L224.17 1150.5L224.17 1150.5L224.17 1150.5L224.17 1150.5L224.17 1150.5L224.17 1150.5L224.17 1150.5L224.17 1150.5L224.17 1150.5L224.17 1150.5L224.17 1150.5L224.17 1150.5L224.17 1150.5L224.17 1150.5L224.17 1150.5L224.17 1150.5L224.17 1150.5L224.17 1150.5L224.17 1150.5L224.17 1150.5L224.17 1150.5L224.17 1150.5L224.17 1150.5L224.17 1150.5L224.17 1150.5L224.17 1150.5L224.17 1150.5L224.17 1150.5L224.17 1150.5L224.17 1150.5L224.17 1150.5L224.17 1150.5L224.17 1150.5L224.17 1150.5L224.17 1150.5L224.17 1150.5L224.17 1150.5L224.17 1150.5L224.17 1150.5L224.17 1150.5L224.17 1150.5L224.17 1150.5L224.17 1150.5L224.17 1150.5L224.17 1150.5L224.17 1150.5L224.17 1150.5L224.17 1150.5L224.17 1150.5L224.17 1150.5L224.17 1150.5L224.17 1150.5L224.17 1150.5L224.17 1150.5L224.17 1150.5L224.17 1150.5L224.17 1150.5L224.17 1150.5L224.17 1150.5L224.17 1150.5L224.17 1150.5L224.17 1150.5L224.17 1150.5L224.17 1150.5L224.17 1150.5L224.17 1150.5L224.17 1150.5L224.17 1150.5L224.17 1150.5L224.17 1150.5L224.17 1150.5L224.17 1150.5L224.17 1150.5L224.17 1150.5L224.17 1150.5L224.17 1150.5L224.17 1150.5L224.17 1150.5L224.17 1150.5L224.17 1150.5L224.17 1150.5L224.17 1150.5L224.17 1150.5L224.17 1150.5L224.17 1150.5L224.17 1150.5L224.17 1150.5L224.17 1150.5L224.17 1150.5L224.17 1150.5L224.17 1150.5L224.17 1150.5L224.17 1150.5L224.17 1150.5L224.17 1150.5L224.17 1150.5L224.17 1150.5L224.17 1150.5L224.17 1150.5L224.17 1150.5L224.17 1150.5L224.17 1150.5L224.17 1150.5L224.17 1150.5L224.17 1150.5L224.17 1150.5L224.17 1150.5L224.17 1150.5L224.17 1150.5L224.17 1150.5L224.17 1150.5L224.17 1150.5L224.18 1150.5L224.18 1150.5L224.18 1150.5L224.18 1150.5L224.18 1150.5L224.18 1150.5L224.18 1150.5L224.18 1150.5L224.18 1150.5L224.18 1150.5L224.18 1150.5L224.18 1150.5L224.18 1150.5L224.18 1150.5L224.18 1150.5L224.18 1150.5L224.18 1150.5L224.18 1150.5L224.18 1150.5L224.18 1150.5L224.18 1150.49L224.18 1150.49L224.18 1150.49L224.18 1150.49L224.18 1150.49L224.18 1150.49L224.18 1150.49L224.18 1150.49L224.18 1150.49L224.18 1150.49L224.18 1150.49L224.18 1150.49L224.18 1150.49L224.18 1150.49L224.18 1150.49L224.18 1150.49L224.18 1150.49L224.18 1150.49L224.18 1150.49L224.18 1150.49L224.18 1150.49L224.18 1150.49L224.18 1150.49L224.18 1150.49L224.18 1150.49L224.18 1150.49L224.19 1150.49L224.19 1150.49L224.19 1150.49L224.19 1150.49L224.19 1150.49L224.19 1150.48L224.19 1150.48L224.19 1150.48L224.19 1150.48L224.19 1150.48L224.19 1150.48L224.19 1150.48L224.19 1150.48L224.19 1150.48L224.19 1150.48L224.19 1150.48L224.19 1150.48L224.2 1150.48L224.2 1150.48L224.2 1150.48L224.2 1150.47L224.2 1150.47L224.2 1150.47L224.2 1150.47L224.2 1150.47L224.2 1150.47L224.2 1150.47L224.2 1150.47L224.21 1150.47L224.21 1150.46L224.21 1150.46L224.21 1150.46L224.21 1150.46L224.21 1150.46L224.21 1150.46L224.22 1150.46L224.22 1150.46L224.22 1150.45L224.22 1150.45L224.22 1150.45L224.22 1150.45L224.23 1150.45L224.23 1150.45L224.23 1150.44L224.23 1150.44L224.23 1150.44L224.24 1150.44L224.24 1150.43L224.24 1150.43L224.24 1150.43L224.24 1150.43L224.25 1150.42L224.25 1150.42L224.25 1150.42L224.26 1150.42L224.26 1150.41L224.26 1150.41L224.26 1150.41L224.27 1150.4L224.27 1150.4L224.27 1150.4L224.28 1150.39L224.28 1150.39L224.29 1150.39L224.29 1150.38L224.29 1150.38L224.3 1150.37L224.3 1150.37L224.31 1150.36L224.31 1150.36L224.32 1150.35L224.32 1150.35L224.33 1150.34L224.33 1150.34L224.34 1150.33L224.34 1150.33L224.35 1150.32L224.36 1150.31L224.36 1150.31L224.37 1150.3L224.38 1150.29L224.38 1150.29L224.39 1150.28L224.4 1150.27L224.41 1150.26L224.42 1150.26L224.42 1150.25L224.43 1150.24L224.44 1150.23L224.45 1150.22L224.46 1150.21L224.47 1150.2L224.48 1150.19L224.49 1150.18L224.51 1150.17L224.52 1150.15L224.53 1150.14L224.54 1150.13L224.55 1150.12L224.57 1150.1L224.58 1150.09L224.6 1150.07L224.61 1150.06L224.63 1150.04L224.64 1150.03L224.66 1150.01L224.68 1149.99L224.7 1149.97L224.71 1149.96L224.73 1149.94L224.75 1149.92L224.77 1149.9L224.79 1149.88L224.82 1149.85L224.84 1149.83L224.86 1149.81L224.89 1149.78L224.91 1149.76L224.94 1149.73L224.97 1149.7L224.99 1149.68L225.02 1149.65L225.05 1149.62L225.08 1149.59L225.12 1149.55L225.15 1149.52L225.18 1149.49L225.22 1149.45L225.26 1149.41L225.3 1149.38L225.34 1149.34L225.38 1149.3L225.42 1149.25L225.46 1149.21L225.51 1149.16L225.56 1149.12L225.61 1149.07L225.66 1149.02L225.71 1148.97L225.76 1148.91L225.82 1148.86L225.88 1148.8L225.94 1148.74L226 1148.68L226.07 1148.62L226.13 1148.55L226.2 1148.48L226.27 1148.41L226.35 1148.34L226.43 1148.26L226.5 1148.18L226.59 1148.1L226.67 1148.02L226.76 1147.93L226.85 1147.84L226.95 1147.75L227.05 1147.66L227.15 1147.56L227.25 1147.45L227.36 1147.35L227.48 1147.24L227.59 1147.13L227.71 1147.01L227.84 1146.89L227.97 1146.76L228.1 1146.63L228.24 1146.5L228.39 1146.36L228.54 1146.22L228.69 1146.07L228.85 1145.92L229.02 1145.76L229.19 1145.6L229.36 1145.43L229.55 1145.26L229.74 1145.08L229.94 1144.89L230.14 1144.7L230.35 1144.51L230.57 1144.3L230.8 1144.09L231.03 1143.87L231.27 1143.65L231.52 1143.42L231.78 1143.18L232.05 1142.93L232.33 1142.67L232.62 1142.41L232.92 1142.14L233.23 1141.86L233.55 1141.57L233.88 1141.27L234.23 1140.96L234.58 1140.65L234.95 1140.32L235.33 1139.98L235.73 1139.63L236.14 1139.28L236.56 1138.91L237 1138.53L237.45 1138.14L237.92 1137.73L238.4 1137.32L238.91 1136.89L239.43 1136.45L239.97 1136L240.52 1135.54L241.1 1135.06L241.7 1134.57L242.31 1134.06L242.95 1133.54L243.61 1133.01L244.3 1132.46L245.01 1131.9L245.74 1131.32L246.5 1130.73L247.28 1130.13L248.09 1129.51L248.93 1128.87L249.79 1128.22L250.69 1127.55L251.62 1126.86L252.57 1126.16L253.56 1125.45L254.59 1124.72L255.64 1123.97L256.74 1123.2L257.86 1122.42L259.03 1121.63L260.23 1120.82L261.48 1119.99L262.76 1119.15L264.08 1118.3L265.45 1117.43L266.86 1116.54L268.31 1115.65L269.81 1114.74L271.36 1113.81L272.95 1112.88L274.59 1111.93L276.29 1110.97L278.03 1110L279.82 1109.03L281.67 1108.04L283.57 1107.05L285.52 1106.05L287.52 1105.05L289.59 1104.04L291.71 1103.03L293.88 1102.02L296.11 1101.01L298.4 1100L300.75 1099L303.15 1098L305.61 1097L308.14 1096.02L310.71 1095.04L313.35 1094.08L316.04 1093.13L318.8 1092.2L321.6 1091.28L324.46 1090.38L327.38 1089.51L330.35 1088.66L333.38 1087.83L336.45 1087.03L339.57 1086.26L342.74 1085.53L345.96 1084.82L349.22 1084.15L352.53 1083.52L355.87 1082.93L359.25 1082.38L362.67 1081.87L366.11 1081.4L369.59 1080.98L373.09 1080.6L376.62 1080.27L380.16 1079.99L383.73 1079.76L387.3 1079.58L390.89 1079.45L394.48 1079.37L398.08 1079.34L401.68 1079.36L405.27 1079.43L408.86 1079.56L412.44 1079.73L416.01 1079.95L419.55 1080.23L423.08 1080.55L426.59 1080.92L430.07 1081.33L433.52 1081.79L436.94 1082.3L440.33 1082.84L443.68 1083.43L446.99 1084.05L450.25 1084.72L453.48 1085.42L456.66 1086.15L459.79 1086.91L462.87 1087.71L465.9 1088.53L468.88 1089.38L471.8 1090.25L474.68 1091.14L477.49 1092.05L480.25 1092.99L482.95 1093.93L485.6 1094.9L488.19 1095.87L490.72 1096.85L493.19 1097.85L495.6 1098.84L497.96 1099.85L500.26 1100.86L502.5 1101.87L504.68 1102.88L506.81 1103.89L508.88 1104.89L510.89 1105.9L512.85 1106.9L514.76 1107.89L516.61 1108.88L518.41 1109.85L520.16 1110.82L521.86 1111.78L523.51 1112.73L525.11 1113.67L526.67 1114.59L528.17 1115.51L529.64 1116.41L531.05 1117.29L532.43 1118.17L533.76 1119.02L535.05 1119.87L536.29 1120.69L537.5 1121.51L538.67 1122.3L539.81 1123.09L540.91 1123.85L541.97 1124.6L543 1125.34L543.99 1126.05L544.95 1126.76L545.88 1127.44L546.79 1128.11L547.66 1128.77L548.5 1129.41L549.31 1130.03L550.1 1130.64L550.86 1131.23L551.6 1131.81L552.31 1132.38L553 1132.93L553.66 1133.46L554.3 1133.98L554.92 1134.49L555.52 1134.98L556.1 1135.46L556.66 1135.93L557.21 1136.38L557.73 1136.83L558.23 1137.25L558.72 1137.67L559.19 1138.07L559.65 1138.47L560.09 1138.85L560.52 1139.22L560.93 1139.58L561.32 1139.93L561.71 1140.27L562.08 1140.6L562.43 1140.91L562.78 1141.22L563.11 1141.52L563.44 1141.81L563.75 1142.1L564.05 1142.37L564.34 1142.63L564.62 1142.89L564.89 1143.14L565.15 1143.38L565.4 1143.61L565.65 1143.84L565.88 1144.06L566.11 1144.27L566.33 1144.47L566.54 1144.67L566.75 1144.87L566.95 1145.05L567.14 1145.23L567.32 1145.41L567.5 1145.58L567.67 1145.74L567.84 1145.9L568 1146.05L568.16 1146.2L568.31 1146.34L568.45 1146.48L568.59 1146.61L568.73 1146.74L568.86 1146.87L568.98 1146.99L569.1 1147.11L569.22 1147.22L569.34 1147.33L569.45 1147.44L569.55 1147.54L569.65 1147.64L569.75 1147.74L569.85 1147.83L569.94 1147.92L570.03 1148.01L570.11 1148.09L570.2 1148.17L570.28 1148.25L570.36 1148.33L570.43 1148.4L570.5 1148.47L570.57 1148.54L570.64 1148.61L570.7 1148.67L570.77 1148.73L570.83 1148.79L570.89 1148.85L570.94 1148.9L571 1148.96L571.05 1149.01L571.1 1149.06L571.15 1149.11L571.2 1149.16L571.24 1149.2L571.29 1149.25L571.33 1149.29L571.37 1149.33L571.41 1149.37L571.45 1149.41L571.49 1149.45L571.52 1149.48L571.56 1149.52L571.59 1149.55L571.63 1149.58L571.66 1149.61L571.69 1149.64L571.72 1149.67L571.74 1149.7L571.77 1149.73L571.8 1149.75L571.82 1149.78L571.85 1149.8L571.87 1149.83L571.89 1149.85L571.92 1149.87L571.94 1149.89L571.96 1149.91L571.98 1149.93L572 1149.95L572.02 1149.97L572.03 1149.99L572.05 1150.01L572.07 1150.02L572.08 1150.04L572.1 1150.06L572.12 1150.07L572.13 1150.09L572.14 1150.1L572.16 1150.11L572.17 1150.13L572.18 1150.14L572.2 1150.15L572.21 1150.16L572.22 1150.18L572.23 1150.19L572.24 1150.2L572.25 1150.21L572.26 1150.22L572.27 1150.23L572.28 1150.24L572.29 1150.25L572.3 1150.25L572.31 1150.26L572.31 1150.27L572.32 1150.28L572.33 1150.29L572.34 1150.29L572.34 1150.3L572.35 1150.31L572.36 1150.31L572.36 1150.32L572.37 1150.33L572.38 1150.33L572.38 1150.34L572.39 1150.34L572.39 1150.35L572.4 1150.35L572.4 1150.36L572.41 1150.36L572.41 1150.37L572.42 1150.37L572.42 1150.38L572.42 1150.38L572.43 1150.39L572.43 1150.39L572.44 1150.39L572.44 1150.4L572.44 1150.4L572.45 1150.4L572.45 1150.41L572.45 1150.41L572.46 1150.41L572.46 1150.42L572.46 1150.42L572.46 1150.42L572.47 1150.42L572.47 1150.43L572.47 1150.43L572.47 1150.43L572.48 1150.43L572.48 1150.44L572.48 1150.44L572.48 1150.44L572.49 1150.44L572.49 1150.44L572.49 1150.45L572.49 1150.45L572.49 1150.45L572.49 1150.45L572.5 1150.45L572.5 1150.46L572.5 1150.46L572.5 1150.46L572.5 1150.46L572.5 1150.46L572.51 1150.46L572.51 1150.46L572.51 1150.46L572.51 1150.47L572.51 1150.47L572.51 1150.47L572.51 1150.47L572.51 1150.47L572.51 1150.47L572.52 1150.47L572.52 1150.47L572.52 1150.47L572.52 1150.48L572.52 1150.48L572.52 1150.48L572.52 1150.48L572.52 1150.48L572.52 1150.48L572.52 1150.48L572.52 1150.48L572.52 1150.48L572.52 1150.48L572.53 1150.48L572.53 1150.48L572.53 1150.48L572.53 1150.48L572.53 1150.48L572.53 1150.49L572.53 1150.49L572.53 1150.49L572.53 1150.49L572.53 1150.49L572.53 1150.49L572.53 1150.49L572.53 1150.49L572.53 1150.49L572.53 1150.49L572.53 1150.49L572.53 1150.49L572.53 1150.49L572.53 1150.49L572.53 1150.49L572.53 1150.49L572.53 1150.49L572.53 1150.49L572.53 1150.49L572.53 1150.49L572.54 1150.49L572.54 1150.49L572.54 1150.49L572.54 1150.49L572.54 1150.49L572.54 1150.49L572.54 1150.49L572.54 1150.49L572.54 1150.49L572.54 1150.49L572.54 1150.49L572.54 1150.49L572.54 1150.5L572.54 1150.5L572.54 1150.5L572.54 1150.5L572.54 1150.5L572.54 1150.5L572.54 1150.5L572.54 1150.5L572.54 1150.5L572.54 1150.5L572.54 1150.5L572.54 1150.5L572.54 1150.5L572.54 1150.5L572.54 1150.5L572.54 1150.5L572.54 1150.5L572.54 1150.5L572.54 1150.5L572.54 1150.5L572.54 1150.5L572.54 1150.5L572.54 1150.5L572.54 1150.5L572.54 1150.5L572.54 1150.5L572.54 1150.5L572.54 1150.5L572.54 1150.5L572.54 1150.5L572.54 1150.5L572.54 1150.5L572.54 1150.5L572.54 1150.5L572.54 1150.5L572.54 1150.5L572.54 1150.5L572.54 1150.5L572.54 1150.5L572.54 1150.5L572.54 1150.5L572.54 1150.5L572.54 1150.5L572.54 1150.5L572.54 1150.5L572.54 1150.5L572.54 1150.5L572.54 1150.5L572.54 1150.5L572.54 1150.5L572.54 1150.5L572.54 1150.5L572.54 1150.5L572.54 1150.5L572.54 1150.5L572.54 1150.5L572.54 1150.5L572.54 1150.5L572.54 1150.5L572.54 1150.5L572.54 1150.5L572.54 1150.5L572.54 1150.5L572.54 1150.5L572.54 1150.5L572.54 1150.5L572.54 1150.5L572.54 1150.5L572.54 1150.5L572.54 1150.5L572.54 1150.5L572.54 1150.5L572.54 1150.5L572.54 1150.5L572.54 1150.5L572.54 1150.5L572.54 1150.5L572.54 1150.5L572.54 1150.5L572.54 1150.5L572.54 1150.5L572.54 1150.5L572.54 1150.5L572.54 1150.5L572.54 1150.5L572.54 1150.5L572.54 1150.5L572.54 1150.5L572.54 1150.5L572.54 1150.5L572.54 1150.5L572.54 1150.5L572.54 1150.5L572.54 1150.5L572.54 1150.5L572.54 1150.5L572.54 1150.5L572.54 1150.5L572.54 1150.5L572.54 1150.5L572.54 1150.5L572.54 1150.5L572.54 1150.5L572.54 1150.5L572.54 1150.5" fill="none" stroke="#000" stroke-width="2.3" stroke-dasharray="3.4 6.1"/>
<path d="M225.75 1150.5L225.75 1150.5L225.75 1150.5L225.75 1150.5L225.75 1150.5L225.75 1150.5L225.75 1150.5L225.75 1150.5L225.75 1150.5L225.75 1150.5L225.75 1150.5L225.75 1150.5L225.75 1150.5L225.75 1150.5L225.75 1150.5L225.75 1150.5L225.75 1150.5L225.75 1150.5L225.75 1150.5L225.75 1150.5L225.75 1150.5L225.75 1150.5L225.75 1150.5L225.75 1150.5L225.75 1150.5L225.75 1150.5L225.75 1150.5L225.75 1150.5L225.75 1150.5L225.75 1150.5L225.75 1150.5L225.75 1150.5L225.75 1150.5L225.75 1150.5L225.75 1150.5L225.75 1150.5L225.75 1150.5L225.75 1150.5L225.75 1150.5L225.75 1150.5L225.75 1150.5L225.75 1150.5L225.75 1150.5L225.75 1150.5L225.75 1150.5L225.75 1150.5L225.75 1150.5L225.75 1150.5L225.75 1150.5L225.75 1150.5L225.75 1150.5L225.75 1150.5L225.75 1150.5L225.75 1150.5L225.75 1150.5L225.75 1150.5L225.75 1150.5L225.75 1150.5L225.75 1150.5L225.75 1150.5L225.75 1150.5L225.75 1150.5L225.75 1150.5L225.75 1150.5L225.75 1150.5L225.75 1150.5L225.75 1150.5L225.75 1150.5L225.75 1150.5L225.75 1150.5L225.75 1150.5L225.75 1150.5L225.75 1150.5L225.75 1150.5L225.75 1150.5L225.75 1150.5L225.75 1150.5L225.75 1150.5L225.75 1150.5L225.75 1150.5L225.75 1150.5L225.75 1150.5L225.75 1150.5L225.75 1150.5L225.75 1150.5L225.75 1150.5L225.75 1150.5L225.75 1150.5L225.75 1150.5L225.75 1150.5L225.75 1150.5L225.75 1150.5L225.75 1150.5L225.75 1150.5L225.75 1150.5L225.75 1150.5L225.75 1150.5L225.75 1150.5L225.75 1150.5L225.75 1150.5L225.75 1150.5L225.75 1150.5L225.75 1150.5L225.75 1150.5L225.75 1150.5L225.75 1150.5L225.75 1150.5L225.75 1150.5L225.75 1150.5L225.75 1150.5L225.75 1150.5L225.75 1150.5L225.75 1150.5L225.75 1150.5L225.75 1150.5L225.75 1150.5L225.75 1150.5L225.75 1150.5L225.75 1150.5L225.75 1150.5L225.75 1150.5L225.75 1150.5L225.75 1150.5L225.75 1150.5L225.75 1150.5L225.75 1150.5L225.75 1150.5L225.75 1150.5L225.75 1150.5L225.75 1150.5L225.75 1150.5L225.75 1150.5L225.75 1150.5L225.75 1150.5L225.75 1150.5L225.75 1150.5L225.75 1150.5L225.75 1150.5L225.75 1150.5L225.75 1150.5L225.75 1150.5L225.75 1150.5L225.75 1150.5L225.75 1150.5L225.75 1150.5L225.75 1150.5L225.75 1150.5L225.75 1150.5L225.75 1150.5L225.75 1150.5L225.75 1150.5L225.75 1150.5L225.75 1150.5L225.75 1150.5L225.75 1150.5L225.75 1150.5L225.75 1150.5L225.75 1150.5L225.75 1150.5L225.75 1150.5L225.75 1150.5L225.75 1150.5L225.75 1150.5L225.75 1150.5L225.75 1150.5L225.75 1150.5L225.75 1150.5L225.75 1150.5L225.75 1150.5L225.75 1150.5L225.75 1150.5L225.75 1150.5L225.75 1150.5L225.75 1150.5L225.75 1150.5L225.75 1150.5L225.75 1150.5L225.75 1150.5L225.75 1150.5L225.75 1150.5L225.75 1150.5L225.75 1150.5L225.75 1150.5L225.75 1150.5L225.75 1150.5L225.75 1150.5L225.75 1150.5L225.75 1150.5L225.75 1150.5L225.75 1150.5L225.75 1150.5L225.75 1150.5L225.75 1150.5L225.75 1150.5L225.75 1150.5L225.75 1150.5L225.75 1150.5L225.75 1150.5L225.75 1150.5L225.75 1150.5L225.75 1150.5L225.75 1150.5L225.75 1150.5L225.75 1150.5L225.75 1150.5L225.75 1150.5L225.75 1150.5L225.75 1150.5L225.75 1150.5L225.75 1150.5L225.75 1150.49L225.75 1150.49L225.75 1150.49L225.75 1150.49L225.75 1150.49L225.75 1150.49L225.75 1150.49L225.75 1150.49L225.75 1150.49L225.75 1150.49L225.75 1150.49L225.75 1150.49L225.75 1150.49L225.75 1150.49L225.75 1150.49L225.75 1150.49L225.75 1150.49L225.76 1150.49L225.76 1150.49L225.76 1150.49L225.76 1150.49L225.76 1150.49L225.76 1150.49L225.76 1150.49L225.76 1150.49L225.76 1150.49L225.76 1150.49L225.76 1150.49L225.76 1150.48L225.76 1150.48L225.76 1150.48L225.76 1150.48L225.76 1150.48L225.76 1150.48L225.76 1150.48L225.76 1150.48L225.76 1150.48L225.76 1150.48L225.77 1150.48L225.77 1150.48L225.77 1150.48L225.77 1150.47L225.77 1150.47L225.77 1150.47L225.77 1150.47L225.77 1150.47L225.77 1150.47L225.77 1150.47L225.77 1150.47L225.78 1150.47L225.78 1150.46L225.78 1150.46L225.78 1150.46L225.78 1150.46L225.78 1150.46L225.78 1150.46L225.78 1150.46L225.79 1150.45L225.79 1150.45L225.79 1150.45L225.79 1150.45L225.79 1150.45L225.79 1150.44L225.8 1150.44L225.8 1150.44L225.8 1150.44L225.8 1150.43L225.8 1150.43L225.81 1150.43L225.81 1150.43L225.81 1150.42L225.81 1150.42L225.82 1150.42L225.82 1150.41L225.82 1150.41L225.82 1150.41L225.83 1150.4L225.83 1150.4L225.83 1150.4L225.84 1150.39L225.84 1150.39L225.84 1150.38L225.85 1150.38L225.85 1150.37L225.86 1150.37L225.86 1150.36L225.86 1150.36L225.87 1150.35L225.87 1150.35L225.88 1150.34L225.88 1150.33L225.89 1150.33L225.9 1150.32L225.9 1150.31L225.91 1150.31L225.91 1150.3L225.92 1150.29L225.93 1150.28L225.93 1150.27L225.94 1150.26L225.95 1150.26L225.96 1150.25L225.97 1150.24L225.97 1150.23L225.98 1150.21L225.99 1150.2L226 1150.19L226.01 1150.18L226.02 1150.17L226.03 1150.15L226.04 1150.14L226.06 1150.13L226.07 1150.11L226.08 1150.1L226.09 1150.08L226.11 1150.06L226.12 1150.05L226.14 1150.03L226.15 1150.01L226.17 1149.99L226.19 1149.97L226.2 1149.95L226.22 1149.93L226.24 1149.91L226.26 1149.88L226.28 1149.86L226.3 1149.83L226.32 1149.81L226.34 1149.78L226.37 1149.75L226.39 1149.72L226.42 1149.69L226.44 1149.66L226.47 1149.63L226.5 1149.59L226.53 1149.56L226.56 1149.52L226.59 1149.48L226.63 1149.44L226.66 1149.4L226.7 1149.36L226.73 1149.31L226.77 1149.27L226.81 1149.22L226.86 1149.17L226.9 1149.12L226.95 1149.06L226.99 1149.01L227.04 1148.95L227.09 1148.89L227.15 1148.83L227.2 1148.76L227.26 1148.69L227.32 1148.62L227.38 1148.55L227.45 1148.47L227.51 1148.4L227.58 1148.31L227.66 1148.23L227.73 1148.14L227.81 1148.05L227.89 1147.95L227.98 1147.85L228.06 1147.75L228.16 1147.65L228.25 1147.54L228.35 1147.42L228.45 1147.3L228.56 1147.18L228.67 1147.05L228.79 1146.92L228.91 1146.78L229.03 1146.64L229.16 1146.49L229.3 1146.34L229.44 1146.18L229.59 1146.01L229.74 1145.84L229.9 1145.66L230.06 1145.48L230.24 1145.28L230.41 1145.09L230.6 1144.88L230.79 1144.67L230.99 1144.45L231.2 1144.22L231.42 1143.98L231.64 1143.73L231.88 1143.48L232.12 1143.22L232.38 1142.94L232.64 1142.66L232.92 1142.37L233.2 1142.07L233.5 1141.75L233.81 1141.43L234.13 1141.09L234.46 1140.75L234.81 1140.39L235.17 1140.02L235.55 1139.63L235.94 1139.24L236.35 1138.83L236.77 1138.4L237.21 1137.97L237.67 1137.52L238.15 1137.05L238.64 1136.57L239.16 1136.08L239.7 1135.57L240.25 1135.04L240.83 1134.5L241.44 1133.94L242.06 1133.37L242.72 1132.77L243.39 1132.16L244.1 1131.54L244.83 1130.9L245.59 1130.24L246.38 1129.56L247.21 1128.86L248.06 1128.15L248.95 1127.41L249.87 1126.66L250.83 1125.9L251.83 1125.11L252.86 1124.31L253.93 1123.49L255.05 1122.65L256.2 1121.8L257.4 1120.93L258.64 1120.04L259.93 1119.14L261.27 1118.22L262.65 1117.29L264.09 1116.34L265.57 1115.39L267.11 1114.42L268.7 1113.44L270.35 1112.45L272.05 1111.46L273.81 1110.46L275.62 1109.45L277.5 1108.44L279.43 1107.42L281.42 1106.41L283.48 1105.4L285.59 1104.39L287.77 1103.39L290.01 1102.4L292.31 1101.42L294.67 1100.45L297.09 1099.49L299.58 1098.56L302.12 1097.64L304.72 1096.75L307.38 1095.88L310.1 1095.04L312.88 1094.23L315.7 1093.45L318.58 1092.71L321.51 1092.01L324.49 1091.35L327.51 1090.73L330.57 1090.15L333.67 1089.63L336.81 1089.15L339.98 1088.72L343.18 1088.35L346.4 1088.03L349.64 1087.77L352.9 1087.56L356.17 1087.41L359.45 1087.32L362.74 1087.28L366.02 1087.31L369.31 1087.39L372.58 1087.53L375.84 1087.73L379.09 1087.99L382.31 1088.3L385.51 1088.66L388.69 1089.08L391.83 1089.55L394.94 1090.07L398 1090.64L401.03 1091.25L404.01 1091.9L406.95 1092.6L409.84 1093.34L412.67 1094.11L415.46 1094.91L418.18 1095.75L420.85 1096.61L423.47 1097.5L426.02 1098.42L428.51 1099.35L430.94 1100.3L433.32 1101.27L435.63 1102.25L437.87 1103.24L440.06 1104.24L442.18 1105.25L444.25 1106.26L446.25 1107.27L448.19 1108.28L450.08 1109.29L451.9 1110.3L453.67 1111.3L455.38 1112.3L457.03 1113.29L458.63 1114.27L460.18 1115.24L461.67 1116.2L463.11 1117.14L464.5 1118.08L465.85 1119L467.14 1119.9L468.39 1120.79L469.6 1121.66L470.76 1122.52L471.88 1123.36L472.96 1124.18L474 1124.99L475 1125.78L475.97 1126.55L476.89 1127.3L477.79 1128.04L478.65 1128.75L479.47 1129.45L480.27 1130.13L481.04 1130.8L481.77 1131.44L482.48 1132.07L483.16 1132.68L483.82 1133.28L484.45 1133.85L485.06 1134.41L485.64 1134.96L486.2 1135.49L486.74 1136L487.26 1136.5L487.76 1136.98L488.24 1137.45L488.7 1137.9L489.14 1138.34L489.57 1138.76L489.98 1139.17L490.37 1139.57L490.75 1139.96L491.12 1140.33L491.47 1140.69L491.8 1141.04L492.13 1141.38L492.44 1141.7L492.74 1142.02L493.02 1142.32L493.3 1142.62L493.57 1142.9L493.82 1143.18L494.07 1143.44L494.3 1143.7L494.53 1143.94L494.75 1144.18L494.96 1144.41L495.16 1144.63L495.35 1144.85L495.54 1145.06L495.72 1145.25L495.89 1145.45L496.06 1145.63L496.22 1145.81L496.37 1145.98L496.52 1146.15L496.66 1146.31L496.8 1146.47L496.93 1146.62L497.05 1146.76L497.18 1146.9L497.29 1147.03L497.4 1147.16L497.51 1147.28L497.62 1147.4L497.72 1147.52L497.81 1147.63L497.9 1147.74L497.99 1147.84L498.08 1147.94L498.16 1148.03L498.24 1148.13L498.32 1148.21L498.39 1148.3L498.46 1148.38L498.53 1148.46L498.59 1148.54L498.65 1148.61L498.71 1148.68L498.77 1148.75L498.83 1148.82L498.88 1148.88L498.93 1148.94L498.98 1149L499.03 1149.06L499.08 1149.11L499.12 1149.16L499.16 1149.21L499.2 1149.26L499.24 1149.31L499.28 1149.35L499.32 1149.4L499.35 1149.44L499.38 1149.48L499.42 1149.52L499.45 1149.55L499.48 1149.59L499.51 1149.62L499.53 1149.66L499.56 1149.69L499.59 1149.72L499.61 1149.75L499.63 1149.78L499.66 1149.8L499.68 1149.83L499.7 1149.85L499.72 1149.88L499.74 1149.9L499.76 1149.93L499.78 1149.95L499.79 1149.97L499.81 1149.99L499.83 1150.01L499.84 1150.03L499.86 1150.04L499.87 1150.06L499.89 1150.08L499.9 1150.09L499.91 1150.11L499.92 1150.12L499.94 1150.14L499.95 1150.15L499.96 1150.16L499.97 1150.18L499.98 1150.19L499.99 1150.2L500 1150.21L500.01 1150.22L500.02 1150.23L500.02 1150.24L500.03 1150.25L500.04 1150.26L500.05 1150.27L500.05 1150.28L500.06 1150.29L500.07 1150.3L500.07 1150.3L500.08 1150.31L500.09 1150.32L500.09 1150.33L500.1 1150.33L500.1 1150.34L500.11 1150.34L500.11 1150.35L500.12 1150.36L500.12 1150.36L500.13 1150.37L500.13 1150.37L500.13 1150.38L500.14 1150.38L500.14 1150.39L500.15 1150.39L500.15 1150.39L500.15 1150.4L500.16 1150.4L500.16 1150.41L500.16 1150.41L500.16 1150.41L500.17 1150.42L500.17 1150.42L500.17 1150.42L500.17 1150.43L500.18 1150.43L500.18 1150.43L500.18 1150.43L500.18 1150.44L500.19 1150.44L500.19 1150.44L500.19 1150.44L500.19 1150.45L500.19 1150.45L500.19 1150.45L500.2 1150.45L500.2 1150.45L500.2 1150.45L500.2 1150.46L500.2 1150.46L500.2 1150.46L500.2 1150.46L500.21 1150.46L500.21 1150.46L500.21 1150.47L500.21 1150.47L500.21 1150.47L500.21 1150.47L500.21 1150.47L500.21 1150.47L500.21 1150.47L500.21 1150.47L500.21 1150.47L500.22 1150.48L500.22 1150.48L500.22 1150.48L500.22 1150.48L500.22 1150.48L500.22 1150.48L500.22 1150.48L500.22 1150.48L500.22 1150.48L500.22 1150.48L500.22 1150.48L500.22 1150.48L500.22 1150.48L500.22 1150.49L500.22 1150.49L500.22 1150.49L500.22 1150.49L500.23 1150.49L500.23 1150.49L500.23 1150.49L500.23 1150.49L500.23 1150.49L500.23 1150.49L500.23 1150.49L500.23 1150.49L500.23 1150.49L500.23 1150.49L500.23 1150.49L500.23 1150.49L500.23 1150.49L500.23 1150.49L500.23 1150.49L500.23 1150.49L500.23 1150.49L500.23 1150.49L500.23 1150.49L500.23 1150.49L500.23 1150.49L500.23 1150.49L500.23 1150.49L500.23 1150.49L500.23 1150.5L500.23 1150.5L500.23 1150.5L500.23 1150.5L500.23 1150.5L500.23 1150.5L500.23 1150.5L500.23 1150.5L500.23 1150.5L500.23 1150.5L500.23 1150.5L500.23 1150.5L500.23 1150.5L500.23 1150.5L500.23 1150.5L500.23 1150.5L500.23 1150.5L500.23 1150.5L500.23 1150.5L500.23 1150.5L500.23 1150.5L500.23 1150.5L500.23 1150.5L500.23 1150.5L500.23 1150.5L500.23 1150.5L500.23 1150.5L500.23 1150.5L500.23 1150.5L500.23 1150.5L500.23 1150.5L500.23 1150.5L500.23 1150.5L500.23 1150.5L500.23 1150.5L500.23 1150.5L500.23 1150.5L500.23 1150.5L500.23 1150.5L500.23 1150.5L500.23 1150.5L500.23 1150.5L500.23 1150.5L500.23 1150.5L500.23 1150.5L500.23 1150.5L500.24 1150.5L500.24 1150.5L500.24 1150.5L500.24 1150.5L500.24 1150.5L500.24 1150.5L500.24 1150.5L500.24 1150.5L500.24 1150.5L500.24 1150.5L500.24 1150.5L500.24 1150.5L500.24 1150.5L500.24 1150.5L500.24 1150.5L500.24 1150.5L500.24 1150.5L500.24 1150.5L500.24 1150.5L500.24 1150.5L500.24 1150.5L500.24 1150.5L500.24 1150.5L500.24 1150.5L500.24 1150.5L500.24 1150.5L500.24 1150.5L500.24 1150.5L500.24 1150.5L500.24 1150.5L500.24 1150.5L500.24 1150.5L500.24 1150.5L500.24 1150.5L500.24 1150.5L500.24 1150.5L500.24 1150.5L500.24 1150.5L500.24 1150.5L500.24 1150.5L500.24 1150.5L500.24 1150.5L500.24 1150.5L500.24 1150.5L500.24 1150.5L500.24 1150.5L500.24 1150.5L500.24 1150.5L500.24 1150.5L500.24 1150.5L500.24 1150.5L500.24 1150.5L500.24 1150.5L500.24 1150.5L500.24 1150.5L500.24 1150.5L500.24 1150.5L500.24 1150.5L500.24 1150.5L500.24 1150.5L500.24 1150.5L500.24 1150.5L500.24 1150.5L500.24 1150.5L500.24 1150.5L500.24 1150.5L500.24 1150.5L500.24 1150.5L500.24 1150.5L500.24 1150.5L500.24 1150.5L500.24 1150.5L500.24 1150.5L500.24 1150.5L500.24 1150.5L500.24 1150.5L500.24 1150.5L500.24 1150.5L500.24 1150.5L500.24 1150.5L500.24 1150.5L500.24 1150.5L500.24 1150.5L500.24 1150.5L500.24 1150.5L500.24 1150.5L500.24 1150.5L500.24 1150.5L500.24 1150.5L500.24 1150.5L500.24 1150.5L500.24 1150.5L500.24 1150.5L500.24 1150.5L500.24 1150.5" fill="none" stroke="#000" stroke-width="2" stroke-dasharray="6.5 4"/>
<rect x="448.6" y="990.1" width="17.7" height="16.4" fill="none" stroke="#000" stroke-width="2.3"/>
<rect x="403.04" y="1008.86" width="17.7" height="16.4" fill="none" stroke="#000" stroke-width="2.3"/>
<rect x="374.07" y="1028.2" width="17.7" height="16.4" fill="none" stroke="#000" stroke-width="2.3"/>
<rect x="341.52" y="1058.6" width="17.7" height="16.4" fill="none" stroke="#000" stroke-width="2.3"/>
<rect x="325.57" y="1069.46" width="17.7" height="16.4" fill="none" stroke="#000" stroke-width="2.3"/>
<rect x="308.77" y="1074" width="17.7" height="16.4" fill="none" stroke="#000" stroke-width="2.3"/>
<rect x="301.42" y="1077.75" width="17.7" height="16.4" fill="none" stroke="#000" stroke-width="3.1"/>
<rect x="297.64" y="1079.13" width="17.7" height="16.4" fill="none" stroke="#000" stroke-width="3.1"/>
<rect x="295.12" y="1078.34" width="17.7" height="16.4" fill="none" stroke="#000" stroke-width="3.1"/>
<rect x="292.19" y="1079.53" width="17.7" height="16.4" fill="none" stroke="#000" stroke-width="3.1"/>
<rect x="290.51" y="1078.74" width="17.7" height="16.4" fill="none" stroke="#000" stroke-width="3.1"/>
<rect x="288.83" y="1082.29" width="17.7" height="16.4" fill="none" stroke="#000" stroke-width="3.1"/>
<rect x="287.78" y="1085.84" width="17.7" height="16.4" fill="none" stroke="#000" stroke-width="3.1"/>
<rect x="286.1" y="1089.79" width="17.7" height="16.4" fill="none" stroke="#000" stroke-width="3.1"/>
<rect x="284.63" y="1092.95" width="17.7" height="16.4" fill="none" stroke="#000" stroke-width="3.1"/>
<rect x="282.74" y="1094.92" width="17.7" height="16.4" fill="none" stroke="#000" stroke-width="3.1"/>
<rect x="281.9" y="1095.91" width="17.7" height="16.4" fill="none" stroke="#000" stroke-width="3.1"/>
<rect x="279.59" y="1101.83" width="17.7" height="16.4" fill="none" stroke="#000" stroke-width="3.1"/>
<rect x="277.7" y="1105.19" width="17.7" height="16.4" fill="none" stroke="#000" stroke-width="3.1"/>
<rect x="276.86" y="1106.37" width="17.7" height="16.4" fill="none" stroke="#000" stroke-width="3.1"/>
<rect x="275.39" y="1107.16" width="17.7" height="16.4" fill="none" stroke="#000" stroke-width="3.1"/>
<ellipse cx="283.82" cy="1104.31" rx="9.8" ry="10.4" fill="none" stroke="#000" stroke-width="3"/>
<ellipse cx="270.38" cy="1112.99" rx="9.8" ry="10.4" fill="none" stroke="#000" stroke-width="3"/>
<ellipse cx="258.21" cy="1117.93" rx="9.8" ry="10.4" fill="none" stroke="#000" stroke-width="3"/>
<ellipse cx="255.69" cy="1119.9" rx="9.8" ry="10.4" fill="none" stroke="#000" stroke-width="3"/>
<ellipse cx="253.59" cy="1121.28" rx="9.8" ry="10.4" fill="none" stroke="#000" stroke-width="3"/>
<ellipse cx="248.76" cy="1124.84" rx="9.8" ry="10.4" fill="none" stroke="#000" stroke-width="3"/>
<ellipse cx="246.45" cy="1126.81" rx="9.8" ry="10.4" fill="none" stroke="#000" stroke-width="3"/>
<ellipse cx="242.88" cy="1129.18" rx="9.8" ry="10.4" fill="none" stroke="#000" stroke-width="3"/>
<ellipse cx="241.2" cy="1130.76" rx="9.8" ry="10.4" fill="none" stroke="#000" stroke-width="3"/>
<ellipse cx="239.31" cy="1132.34" rx="9.8" ry="10.4" fill="none" stroke="#000" stroke-width="3"/>
<ellipse cx="238.26" cy="1133.52" rx="9.8" ry="10.4" fill="none" stroke="#000" stroke-width="3"/>
<ellipse cx="237.21" cy="1134.71" rx="9.8" ry="10.4" fill="none" stroke="#000" stroke-width="3"/>
<ellipse cx="236.79" cy="1135.5" rx="9.8" ry="10.4" fill="none" stroke="#000" stroke-width="3"/>
<ellipse cx="236.58" cy="1136.29" rx="9.8" ry="10.4" fill="none" stroke="#000" stroke-width="3"/>
<ellipse cx="235.74" cy="1137.47" rx="9.8" ry="10.4" fill="none" stroke="#000" stroke-width="3"/>
<ellipse cx="235.32" cy="1138.66" rx="9.8" ry="10.4" fill="none" stroke="#000" stroke-width="3"/>
<ellipse cx="234.06" cy="1139.84" rx="9.8" ry="10.4" fill="none" stroke="#000" stroke-width="3"/>
<ellipse cx="233.43" cy="1141.02" rx="9.8" ry="10.4" fill="none" stroke="#000" stroke-width="3"/>
<ellipse cx="233.01" cy="1142.21" rx="9.8" ry="10.4" fill="none" stroke="#000" stroke-width="3"/>
<ellipse cx="233.01" cy="1143" rx="9.8" ry="10.4" fill="none" stroke="#000" stroke-width="3"/>
<ellipse cx="232.8" cy="1143.79" rx="9.8" ry="10.4" fill="none" stroke="#000" stroke-width="3"/>
<ellipse cx="232.38" cy="1144.58" rx="9.8" ry="10.4" fill="none" stroke="#000" stroke-width="3"/>
<ellipse cx="231.75" cy="1145.37" rx="9.8" ry="10.4" fill="none" stroke="#000" stroke-width="3"/>
<ellipse cx="231.33" cy="1146.16" rx="9.8" ry="10.4" fill="none" stroke="#000" stroke-width="3"/>
<ellipse cx="231.33" cy="1146.55" rx="9.8" ry="10.4" fill="none" stroke="#000" stroke-width="3"/>
<ellipse cx="231.33" cy="1147.14" rx="9.8" ry="10.4" fill="none" stroke="#000" stroke-width="3"/>
<ellipse cx="230.91" cy="1147.74" rx="9.8" ry="10.4" fill="none" stroke="#000" stroke-width="3"/>
<ellipse cx="230.91" cy="1148.13" rx="9.8" ry="10.4" fill="none" stroke="#000" stroke-width="3"/>
<ellipse cx="230.7" cy="1148.53" rx="9.8" ry="10.4" fill="none" stroke="#000" stroke-width="3"/>
<path d="M461.36 1133.47L487.96 1133.47L476.46 1111.47L472.86 1111.47ZM465.82 1130.77L483.51 1130.77L474.66 1113.85Z" fill="#000" fill-rule="evenodd"/>
<path d="M438.27 1116.1L464.87 1116.1L453.37 1094.1L449.77 1094.1ZM442.73 1113.4L460.41 1113.4L451.57 1096.48Z" fill="#000" fill-rule="evenodd"/>
<path d="M417.9 1107.02L444.5 1107.02L433 1085.02L429.4 1085.02ZM422.36 1104.32L440.05 1104.32L431.2 1087.4Z" fill="#000" fill-rule="evenodd"/>
<path d="M402.37 1101.1L428.97 1101.1L417.47 1079.1L413.87 1079.1ZM406.83 1098.4L424.51 1098.4L415.67 1081.48Z" fill="#000" fill-rule="evenodd"/>
<path d="M368.57 1094.98L395.17 1094.98L383.67 1072.98L380.07 1072.98ZM373.02 1092.28L390.71 1092.28L381.87 1075.36Z" fill="#000" fill-rule="evenodd"/>
<path d="M333.08 1094.58L359.68 1094.58L348.18 1072.58L344.58 1072.58ZM337.54 1091.88L355.23 1091.88L346.38 1074.97Z" fill="#000" fill-rule="evenodd"/>
<path d="M309.36 1098.33L335.96 1098.33L324.46 1076.33L320.86 1076.33ZM313.82 1095.63L331.5 1095.63L322.66 1078.72Z" fill="#000" fill-rule="evenodd"/>
<path d="M293.4 1102.28L320 1102.28L308.5 1080.28L304.9 1080.28ZM297.86 1099.58L315.55 1099.58L306.7 1082.66Z" fill="#000" fill-rule="evenodd"/>
<path d="M269.68 1113.14L296.28 1113.14L284.78 1091.14L281.18 1091.14ZM275.62 1109.54L290.34 1109.54L282.98 1095.46Z" fill="#000" fill-rule="evenodd"/>
<path d="M250.99 1126.36L277.59 1126.36L266.09 1104.36L262.49 1104.36ZM256.94 1122.76L271.65 1122.76L264.29 1108.69Z" fill="#000" fill-rule="evenodd"/>
<path d="M244.49 1130.9L271.09 1130.9L259.59 1108.9L255.99 1108.9ZM250.43 1127.3L265.14 1127.3L257.79 1113.23Z" fill="#000" fill-rule="evenodd"/>
<path d="M239.66 1134.26L266.26 1134.26L254.76 1112.26L251.16 1112.26ZM245.6 1130.66L260.31 1130.66L252.96 1116.59Z" fill="#000" fill-rule="evenodd"/>
<path d="M232.73 1139.79L259.33 1139.79L247.83 1117.79L244.23 1117.79ZM238.67 1136.19L253.38 1136.19L246.03 1122.11Z" fill="#000" fill-rule="evenodd"/>
<path d="M224.96 1147.68L251.56 1147.68L240.06 1125.68L236.46 1125.68ZM230.9 1144.08L245.62 1144.08L238.26 1130.01Z" fill="#000" fill-rule="evenodd"/>
<path d="M222.23 1151.24L248.83 1151.24L237.33 1129.24L233.73 1129.24ZM228.17 1147.64L242.89 1147.64L235.53 1133.56Z" fill="#000" fill-rule="evenodd"/>
<path d="M220.76 1153.21L247.36 1153.21L235.86 1131.21L232.26 1131.21ZM226.71 1149.61L241.42 1149.61L234.06 1135.54Z" fill="#000" fill-rule="evenodd"/>
<path d="M218.87 1155.58L245.47 1155.58L233.97 1133.58L230.37 1133.58ZM224.82 1151.98L239.53 1151.98L232.17 1137.91Z" fill="#000" fill-rule="evenodd"/>
<path d="M217.19 1157.55L243.79 1157.55L232.29 1135.55L228.69 1135.55ZM223.14 1153.95L237.85 1153.95L230.49 1139.88Z" fill="#000" fill-rule="evenodd"/>
</g>
<rect x="152" y="852.6" width="5" height="301.4" fill="#0e0e0e"/>
<rect x="152" y="852.6" width="844.8" height="4.4" fill="#000"/>
<rect x="152" y="1149.9" width="844.8" height="4.1" fill="#222"/>
<rect x="990.6" y="852.6" width="2.2" height="301.4" fill="#707070"/>
<rect x="992.8" y="852.6" width="2.4" height="301.4" fill="#000"/>
<rect x="995.2" y="852.6" width="1.6" height="301.4" fill="#8a8a8a"/>
<path d="M154.5 1052.87h13.5M154.5 953.78h13.5M259.41 1151.95v-13.5M364.32 1151.95v-13.5M469.24 1151.95v-13.5M574.15 1151.95v-13.5M679.06 1151.95v-13.5M783.97 1151.95v-13.5M888.89 1151.95v-13.5" stroke="#000" stroke-width="4.2" fill="none"/>
<text x="141.2" y="1162.15" font-family='"Liberation Sans", Arial, Helvetica, sans-serif' font-size="34.9" font-weight="normal" text-anchor="end" fill="#000" stroke="#000" stroke-width="0.8">0.0</text>
<text x="141.2" y="1063.07" font-family='"Liberation Sans", Arial, Helvetica, sans-serif' font-size="34.9" font-weight="normal" text-anchor="end" fill="#000" stroke="#000" stroke-width="0.8">0.5</text>
<text x="141.2" y="963.98" font-family='"Liberation Sans", Arial, Helvetica, sans-serif' font-size="34.9" font-weight="normal" text-anchor="end" fill="#000" stroke="#000" stroke-width="0.8">1.0</text>
<text x="141.2" y="864.9" font-family='"Liberation Sans", Arial, Helvetica, sans-serif' font-size="34.9" font-weight="normal" text-anchor="end" fill="#000" stroke="#000" stroke-width="0.8">1.5</text>
<text x="154.5" y="1191" font-family='"Liberation Sans", Arial, Helvetica, sans-serif' font-size="34.9" font-weight="normal" text-anchor="middle" fill="#000" stroke="#000" stroke-width="0.8">2.5</text>
<text x="259.41" y="1191" font-family='"Liberation Sans", Arial, Helvetica, sans-serif' font-size="34.9" font-weight="normal" text-anchor="middle" fill="#000" stroke="#000" stroke-width="0.8">3.0</text>
<text x="364.32" y="1191" font-family='"Liberation Sans", Arial, Helvetica, sans-serif' font-size="34.9" font-weight="normal" text-anchor="middle" fill="#000" stroke="#000" stroke-width="0.8">3.5</text>
<text x="469.24" y="1191" font-family='"Liberation Sans", Arial, Helvetica, sans-serif' font-size="34.9" font-weight="normal" text-anchor="middle" fill="#000" stroke="#000" stroke-width="0.8">4.0</text>
<text x="574.15" y="1191" font-family='"Liberation Sans", Arial, Helvetica, sans-serif' font-size="34.9" font-weight="normal" text-anchor="middle" fill="#000" stroke="#000" stroke-width="0.8">4.5</text>
<text x="679.06" y="1191" font-family='"Liberation Sans", Arial, Helvetica, sans-serif' font-size="34.9" font-weight="normal" text-anchor="middle" fill="#000" stroke="#000" stroke-width="0.8">5.0</text>
<text x="783.97" y="1191" font-family='"Liberation Sans", Arial, Helvetica, sans-serif' font-size="34.9" font-weight="normal" text-anchor="middle" fill="#000" stroke="#000" stroke-width="0.8">5.5</text>
<text x="888.89" y="1191" font-family='"Liberation Sans", Arial, Helvetica, sans-serif' font-size="34.9" font-weight="normal" text-anchor="middle" fill="#000" stroke="#000" stroke-width="0.8">6.0</text>
<text x="993.8" y="1191" font-family='"Liberation Sans", Arial, Helvetica, sans-serif' font-size="34.9" font-weight="normal" text-anchor="middle" fill="#000" stroke="#000" stroke-width="0.8">6.5</text>
<text x="225.1" y="932" font-family='"Liberation Serif", "DejaVu Serif", "Times New Roman", serif' font-size="62.8" font-weight="normal" text-anchor="middle" fill="#000" stroke="#000" stroke-width="0.8">(b)</text>
<text transform="translate(52.8,1079) rotate(-90) scale(1.06,1)" font-family='"Liberation Serif", "DejaVu Serif", "Times New Roman", serif' font-size="77" fill="#000" stroke="#000" stroke-width="0.6">ε</text>
<text transform="translate(55.3,1048.9) rotate(-90)" font-family='"Liberation Serif", "DejaVu Serif", "Times New Roman", serif' font-size="79" fill="#000" stroke="#000" stroke-width="0.3">'</text>
<text transform="translate(55.3,1038.7) rotate(-90)" font-family='"Liberation Serif", "DejaVu Serif", "Times New Roman", serif' font-size="79" fill="#000" stroke="#000" stroke-width="0.3">'</text>
<text transform="translate(551.4,1277.4) scale(1.07,1)" font-family='"Liberation Serif", "DejaVu Serif", "Times New Roman", serif' font-size="72" fill="#000" stroke="#000" stroke-width="0.6">ε</text>
<text transform="translate(580.5,1280.6)" font-family='"Liberation Serif", "DejaVu Serif", "Times New Roman", serif' font-size="82" fill="#000" stroke="#000" stroke-width="0.6">'</text>
<path d="M692.6 882.9L768.8 882.9" fill="none" stroke="#000" stroke-width="3.5"/>
<rect x="721.6" y="875.8" width="17.2" height="17.2" fill="none" stroke="#000" stroke-width="2.5"/>
<text x="779.2" y="896.6" font-family='"Liberation Sans", Arial, Helvetica, sans-serif' font-size="33" font-weight="normal" text-anchor="start" fill="#000" stroke="#000" stroke-width="1.1" letter-spacing="-0.1">PANI/MCM-41</text>
<path d="M692.6 924.5L765.5 924.5" fill="none" stroke="#000" stroke-width="2.7" stroke-dasharray="2.7 2.6"/>
<ellipse cx="730" cy="924.8" rx="9.2" ry="9.7" fill="none" stroke="#000" stroke-width="2.3"/>
<text x="779.2" y="936.2" font-family='"Liberation Sans", Arial, Helvetica, sans-serif' font-size="33" font-weight="normal" text-anchor="start" fill="#000" stroke="#000" stroke-width="1.1" letter-spacing="-0.1">MCM-41</text>
<path d="M690.3 966.1L765 966.1" fill="none" stroke="#000" stroke-width="3.2" stroke-dasharray="10 6.2"/>
<path d="M717.8 972.55L742.4 972.55L731.6 950.25L728.6 950.25ZM722.43 969.65L737.77 969.65L730.1 953.81Z" fill="#000" fill-rule="evenodd"/>
<text x="779.2" y="976.4" font-family='"Liberation Sans", Arial, Helvetica, sans-serif' font-size="33" font-weight="normal" text-anchor="start" fill="#000" stroke="#000" stroke-width="1.1" letter-spacing="-0.1">PANI</text>
</svg>
</body></html>
